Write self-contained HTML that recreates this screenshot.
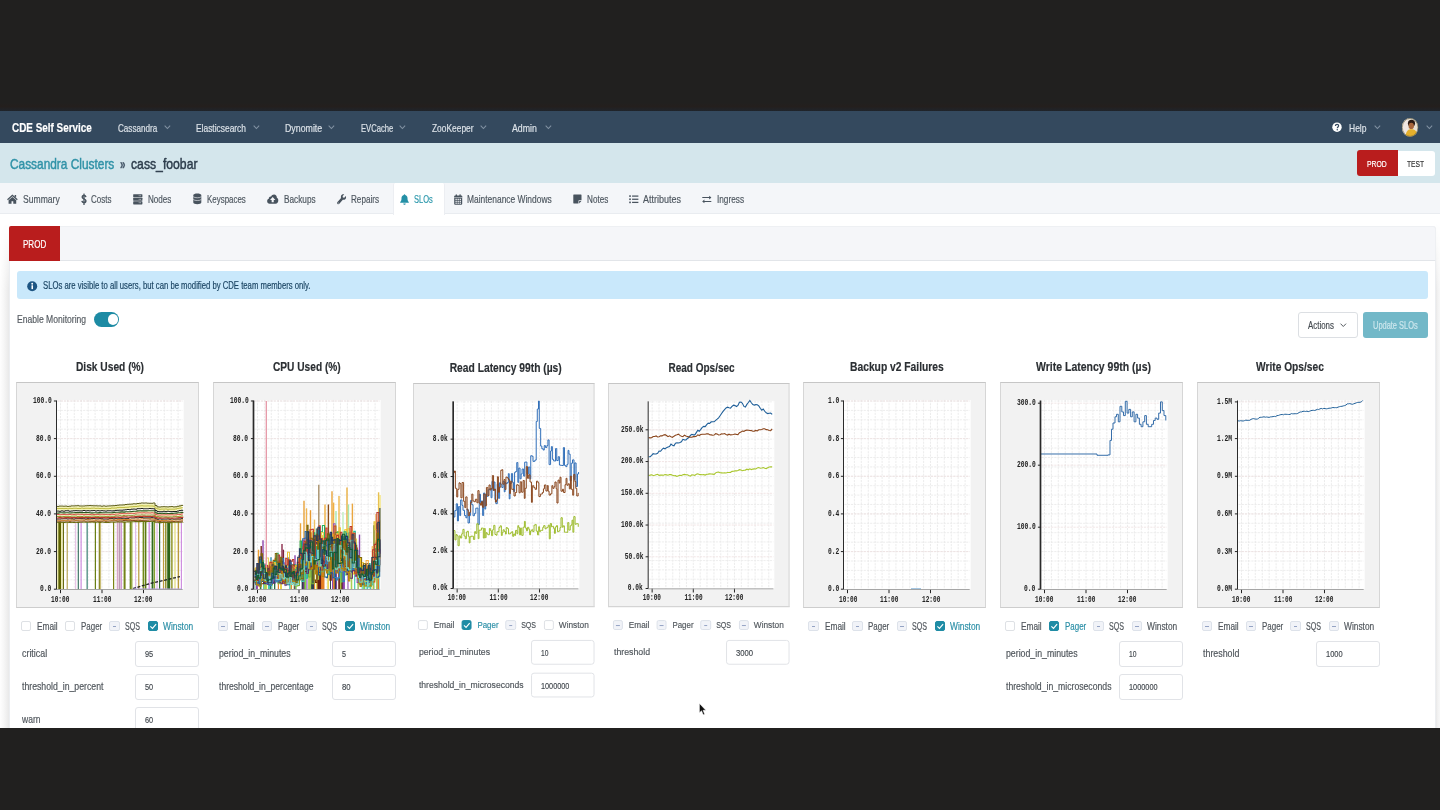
<!DOCTYPE html><html><head><meta charset="utf-8"><title>CDE Self Service</title><style>
*{box-sizing:border-box;margin:0;padding:0}
html,body{width:1440px;height:810px;overflow:hidden;background:#21201f}
body{position:relative;font-family:"Liberation Sans",sans-serif}
.a{position:absolute}
.t{position:absolute;white-space:pre;line-height:1;transform-origin:0 0;display:block;-webkit-text-stroke:.18px currentColor}
.s{font-family:"Liberation Sans",sans-serif}
.m{font-family:"Liberation Mono",monospace;-webkit-text-stroke:0}
#page{position:absolute;left:0;top:111px;width:1440px;height:617px;background:#fff;overflow:hidden}
#wrap{position:absolute;left:0;top:-111px;width:1440px;height:810px;will-change:transform}
.col{position:absolute;transform-origin:0 0;width:190px;height:360px}
.box{position:absolute;left:0;top:0;width:182.5px;height:225.7px;background:#f2f2f2;border:1px solid #d6d6d6;border-top-color:#c6c6c6;border-bottom-color:#cdcdcd}
.cb{position:absolute;top:238.8px;width:10.4px;height:10.4px;border-radius:2px}
.cb.u{background:#fff;border:1px solid #dee1e5}
.cb.i{background:#f1f3f8;border:1px solid #dde2ea}
.cb.c{background:#1f8ca5;border:1px solid #1f8ca5}
.inp{position:absolute;left:118.9px;width:63.8px;height:25.4px;background:#fff;border:1px solid #e1e3e7;border-radius:3px}
svg{position:absolute;overflow:visible}
</style></head><body>
<div class="a" style="left:0;top:103px;width:1440px;height:8px;background:linear-gradient(180deg,#21201f,#241f1d 45%,#1f242b 100%)"></div>
<div id="page"><div id="wrap">
<div class="a" style="left:0;top:111px;width:1440px;height:31.6px;background:#34495e"></div>
<div class="a" style="left:0;top:142.6px;width:1440px;height:40px;background:#d4e6ec"></div>
<div class="a" style="left:0;top:182.6px;width:1440px;height:31px;background:#f4f6f9;border-bottom:1px solid #e9ecf0"></div>
<div class="a" style="left:392.7px;top:183px;width:52.5px;height:32px;background:#fff;border-left:1px solid #eceef2;border-right:1px solid #eceef2;border-radius:2px 2px 0 0"></div>
<div class="a" style="left:0;top:222px;width:8.9px;height:520px;background:linear-gradient(90deg,#fefefe 0,#f8f8f8 35%,#efefef 75%,#e9e9e9 100%);-webkit-mask-image:linear-gradient(180deg,transparent 0,rgba(0,0,0,.25) 22px,#000 70px);mask-image:linear-gradient(180deg,transparent 0,rgba(0,0,0,.25) 22px,#000 70px)"></div>
<div class="a" style="left:1436px;top:222px;width:4px;height:520px;background:linear-gradient(90deg,#e8e8e8,#f2f2f2 45%,#f7f7f7);-webkit-mask-image:linear-gradient(180deg,transparent 0,rgba(0,0,0,.25) 22px,#000 70px);mask-image:linear-gradient(180deg,transparent 0,rgba(0,0,0,.25) 22px,#000 70px)"></div>
<div class="a" style="left:9.2px;top:225.7px;width:1426.8px;height:520px;background:#fff;border:1px solid #eceef1;border-radius:3px 3px 0 0"></div>
<div class="a" style="left:9.2px;top:225.7px;width:1426.8px;height:35.5px;background:#f5f6f9;border:1px solid #eef0f3;border-bottom:1px solid #e2e5e9;border-radius:3px 3px 0 0"></div>
<div class="a" style="left:9.2px;top:226.2px;width:51.2px;height:34.4px;background:#b91d1d;border-radius:2px 0 0 0"></div>
<div class="a" style="left:16.7px;top:271.3px;width:1411.3px;height:27.9px;background:#c9e8fb;border-radius:3px"></div>
<svg style="left:27.3px;top:280.6px" width="10.4" height="10.4" viewBox="0 0 20 20"><circle cx="10" cy="10" r="9.6" fill="#1d5583"/><rect x="8.6" y="8.2" width="3" height="7.4" fill="#fff"/><circle cx="10" cy="5.4" r="1.8" fill="#fff"/></svg>
<div class="a" style="left:93.7px;top:311.8px;width:25.8px;height:15.5px;border-radius:8px;background:#1d8ba4"></div>
<div class="a" style="left:107.6px;top:314.1px;width:10.9px;height:10.9px;border-radius:50%;background:#fff"></div>
<div class="a" style="left:1298.3px;top:312.2px;width:60px;height:26.2px;background:#fff;border:1px solid #dcdfe3;border-radius:3px"></div>
<svg style="left:1340.3px;top:323.3px" width="6.6" height="4.4" viewBox="0 0 12 8"><path d="M1 1.2 L6 6.4 L11 1.2" fill="none" stroke="#4a5056" stroke-width="1.7"/></svg>
<div class="a" style="left:1363.3px;top:312.2px;width:64.7px;height:26.2px;background:#72b8c8;border-radius:3px"></div>
<div class="a" style="left:1356.6px;top:150px;width:41.4px;height:26.2px;background:#b91d1d;border-radius:3px 0 0 3px"></div>
<div class="a" style="left:1398px;top:150.6px;width:37.2px;height:25.5px;background:#fff;border-radius:0 3px 3px 0"></div>
<svg style="left:163.8px;top:124.8px" width="6.8" height="4.4" viewBox="0 0 12 8"><path d="M1 1.2 L6 6.4 L11 1.2" fill="none" stroke="#8292a3" stroke-width="1.9"/></svg>
<svg style="left:252.5px;top:124.8px" width="6.8" height="4.4" viewBox="0 0 12 8"><path d="M1 1.2 L6 6.4 L11 1.2" fill="none" stroke="#8292a3" stroke-width="1.9"/></svg>
<svg style="left:327.8px;top:124.8px" width="6.8" height="4.4" viewBox="0 0 12 8"><path d="M1 1.2 L6 6.4 L11 1.2" fill="none" stroke="#8292a3" stroke-width="1.9"/></svg>
<svg style="left:399.4px;top:124.8px" width="6.8" height="4.4" viewBox="0 0 12 8"><path d="M1 1.2 L6 6.4 L11 1.2" fill="none" stroke="#8292a3" stroke-width="1.9"/></svg>
<svg style="left:479.8px;top:124.8px" width="6.8" height="4.4" viewBox="0 0 12 8"><path d="M1 1.2 L6 6.4 L11 1.2" fill="none" stroke="#8292a3" stroke-width="1.9"/></svg>
<svg style="left:544.8px;top:124.8px" width="6.8" height="4.4" viewBox="0 0 12 8"><path d="M1 1.2 L6 6.4 L11 1.2" fill="none" stroke="#8292a3" stroke-width="1.9"/></svg>
<svg style="left:1374.4px;top:124.8px" width="6.8" height="4.4" viewBox="0 0 12 8"><path d="M1 1.2 L6 6.4 L11 1.2" fill="none" stroke="#8292a3" stroke-width="1.9"/></svg>
<svg style="left:1425.6px;top:124.8px" width="6.8" height="4.4" viewBox="0 0 12 8"><path d="M1 1.2 L6 6.4 L11 1.2" fill="none" stroke="#8292a3" stroke-width="1.9"/></svg>
<svg style="left:1332.4px;top:122.3px" width="10" height="10.4" viewBox="0 0 20 20"><circle cx="10" cy="10" r="9.4" fill="#fff"/><path d="M6.9 7.6 C6.9 5.4 8.3 4.3 10.1 4.3 C12 4.3 13.3 5.4 13.3 7.1 C13.3 9.6 10.6 9.4 10.6 12" fill="none" stroke="#34495e" stroke-width="2.4"/><circle cx="10.5" cy="15.3" r="1.5" fill="#34495e"/></svg>
<svg style="left:1401.7px;top:118.3px" width="16.2" height="18.8" viewBox="0 0 16.4 18.8"><defs><clipPath id="av"><ellipse cx="8.2" cy="9.4" rx="8.2" ry="9.4"/></clipPath></defs><g clip-path="url(#av)"><rect width="16.4" height="18.8" fill="#e9e2d6"/><rect x="0" y="0" width="6" height="18.8" fill="#efe6e2"/><ellipse cx="9.6" cy="5.2" rx="3.6" ry="3.6" fill="#2a1a14"/><ellipse cx="9.4" cy="8" rx="2.7" ry="3.2" fill="#a8663c"/><path d="M3.5 18.8 C4 12.5 6.5 11.2 9.4 11.2 C12.6 11.2 15.5 12.5 16 18.8 Z" fill="#e5b02c"/></g><ellipse cx="8.2" cy="9.4" rx="7.9" ry="9.1" fill="none" stroke="#6c6440" stroke-width=".6"/></svg>
<svg style="left:7.4px;top:194.0px" width="10.8" height="10.4" viewBox="0 0 22 21"><path d="M11 1 L21.8 10.8 L20.2 12.6 L11 4.4 L1.8 12.6 L0.2 10.8 Z M15.6 2.2 h3 v5 l-3 -2.6 Z M11 6 L18.8 12.8 V20 H12.8 V14.6 H9.2 V20 H3.2 V12.8 Z" fill="#48535e"/></svg>
<svg style="left:81.0px;top:193.0px" width="6.0" height="12.6" viewBox="0 0 12 24"><path d="M9.8 7.6 C9.4 5.4 7.8 4.6 6 4.6 C4 4.6 2.4 5.8 2.4 7.6 C2.4 11.8 9.8 10.4 9.8 15 C9.8 17 8.2 18.6 6 18.6 C3.8 18.6 2.2 17.4 1.8 15.2" fill="none" stroke="#48535e" stroke-width="3"/><rect x="4.7" y="0.6" width="2.6" height="22.8" fill="#48535e"/></svg>
<svg style="left:132.8px;top:194.0px" width="9.6" height="10.6" viewBox="0 0 20 22"><rect x="0.4" y="0.4" width="19.2" height="6.4" rx="1.2" fill="#48535e"/><circle cx="16" cy="3.6" r="1" fill="#f4f6f9"/><circle cx="12.8" cy="3.6" r="1" fill="#f4f6f9"/><rect x="0.4" y="7.8" width="19.2" height="6.4" rx="1.2" fill="#48535e"/><circle cx="16" cy="11" r="1" fill="#f4f6f9"/><circle cx="12.8" cy="11" r="1" fill="#f4f6f9"/><rect x="0.4" y="15.2" width="19.2" height="6.4" rx="1.2" fill="#48535e"/><circle cx="16" cy="18.4" r="1" fill="#f4f6f9"/><circle cx="12.8" cy="18.4" r="1" fill="#f4f6f9"/></svg>
<svg style="left:192.7px;top:192.8px" width="8.6" height="11.6" viewBox="0 0 18 24"><path d="M0.6 4.2 C0.6 -0.4 17.4 -0.4 17.4 4.2 V19.8 C17.4 24.4 0.6 24.4 0.6 19.8 Z" fill="#48535e"/><path d="M0.6 7.6 C3 10.6 15 10.6 17.4 7.6 M0.6 13.4 C3 16.4 15 16.4 17.4 13.4" fill="none" stroke="#f4f6f9" stroke-width="1.3"/></svg>
<svg style="left:266.8px;top:193.8px" width="11.4" height="10.2" viewBox="0 0 24 21"><path d="M5.6 20.4 C2.4 20.4 0.3 18 0.3 15 C0.3 12.6 1.8 10.6 3.8 10 C3.6 6.8 6 4.6 8.4 5.4 C9.6 2.4 12 0.6 14.8 0.6 C18.4 0.6 21 3.6 20.8 7.6 C22.8 8.4 23.8 10.4 23.8 13 C23.8 17.2 21.4 20.4 18 20.4 Z" fill="#48535e"/><path d="M12 6 L17.6 12.4 H14.2 V17 H9.8 V12.4 H6.4 Z" fill="#f4f6f9"/></svg>
<svg style="left:336.7px;top:193.8px" width="9.4" height="10.6" viewBox="0 0 20 22"><path d="M18.8 4.2 L15.4 7.6 L12.6 7 L12 4.2 L15.4 0.8 C12.6 -0.2 9.2 1.2 8.4 4.4 C8 5.8 8.2 7 8.6 8 L1 16.8 C-0.2 18.2 0.2 20 1.2 20.8 C2.2 21.8 4 21.8 5 20.6 L12.4 11.8 C15 12.6 18 11.4 19 8.6 C19.6 7 19.4 5.4 18.8 4.2 Z" fill="#48535e"/><circle cx="3" cy="18.8" r="1" fill="#f4f6f9"/></svg>
<svg style="left:400.0px;top:193.8px" width="9.0" height="11.0" viewBox="0 0 18 22"><path d="M9 0.6 C9.9 0.6 10.5 1.3 10.4 2.2 C13.4 2.9 15 5.4 15 8.6 C15 13 16.2 14.6 17.6 16 V17.6 H0.4 V16 C1.8 14.6 3 13 3 8.6 C3 5.4 4.6 2.9 7.6 2.2 C7.5 1.3 8.1 0.6 9 0.6 Z M6.6 18.8 H11.4 C11.4 20.4 10.4 21.4 9 21.4 C7.6 21.4 6.6 20.4 6.6 18.8 Z" fill="#2490a6"/></svg>
<svg style="left:453.8px;top:193.6px" width="8.4" height="11.0" viewBox="0 0 17 22"><rect x="0.4" y="2.8" width="16.2" height="18.6" rx="1.8" fill="#48535e"/><rect x="3.4" y="0.4" width="2.6" height="4.8" rx="1" fill="#48535e"/><rect x="11" y="0.4" width="2.6" height="4.8" rx="1" fill="#48535e"/><rect x="3" y="9.4" width="2.6" height="2.6" fill="#f4f6f9"/><rect x="3" y="13.4" width="2.6" height="2.6" fill="#f4f6f9"/><rect x="3" y="17.2" width="2.6" height="2.6" fill="#f4f6f9"/><rect x="7.2" y="9.4" width="2.6" height="2.6" fill="#f4f6f9"/><rect x="7.2" y="13.4" width="2.6" height="2.6" fill="#f4f6f9"/><rect x="7.2" y="17.2" width="2.6" height="2.6" fill="#f4f6f9"/><rect x="11.4" y="9.4" width="2.6" height="2.6" fill="#f4f6f9"/><rect x="11.4" y="13.4" width="2.6" height="2.6" fill="#f4f6f9"/><rect x="11.4" y="17.2" width="2.6" height="2.6" fill="#f4f6f9"/><rect x="0.4" y="6.6" width="16.2" height="1" fill="#f4f6f9"/></svg>
<svg style="left:573.0px;top:194.4px" width="8.8" height="10.0" viewBox="0 0 18 20"><path d="M1.6 0.6 H16.4 C17 0.6 17.4 1 17.4 1.6 V12.6 H12.4 C11.6 12.6 11.2 13 11.2 13.8 V19.4 H1.6 C1 19.4 0.6 19 0.6 18.4 V1.6 C0.6 1 1 0.6 1.6 0.6 Z M12.6 14 H17.2 L12.6 19 Z" fill="#48535e"/></svg>
<svg style="left:628.8px;top:195.2px" width="9.6" height="8.6" viewBox="0 0 20 18"><rect x="0.4" y="0.6" width="3.4" height="3.4" fill="#48535e"/><rect x="6.4" y="1" width="13.2" height="2.6" fill="#48535e"/><rect x="0.4" y="7.2" width="3.4" height="3.4" fill="#48535e"/><rect x="6.4" y="7.6" width="13.2" height="2.6" fill="#48535e"/><rect x="0.4" y="13.8" width="3.4" height="3.4" fill="#48535e"/><rect x="6.4" y="14.2" width="13.2" height="2.6" fill="#48535e"/></svg>
<svg style="left:702.2px;top:195.0px" width="9.6" height="9.0" viewBox="0 0 20 18"><path d="M0.6 4 H15 V1 L19.6 5 L15 9 V6 H0.6 Z M19.4 12 H5 V9 L0.4 13 L5 17 V14 H19.4 Z" fill="#48535e"/></svg>
<span class="t s" style="left:12.20px;top:121.97px;font-size:12.3px;color:#ffffff;transform:scaleX(0.8052);font-weight:bold">CDE Self Service</span>
<span class="t s" style="left:118.30px;top:122.82px;font-size:10.6px;color:#dce2e8;transform:scaleX(0.7651)">Cassandra</span>
<span class="t s" style="left:196.20px;top:122.82px;font-size:10.6px;color:#dce2e8;transform:scaleX(0.7937)">Elasticsearch</span>
<span class="t s" style="left:284.50px;top:122.82px;font-size:10.6px;color:#dce2e8;transform:scaleX(0.8313)">Dynomite</span>
<span class="t s" style="left:360.80px;top:122.82px;font-size:10.6px;color:#dce2e8;transform:scaleX(0.7193)">EVCache</span>
<span class="t s" style="left:432.20px;top:122.82px;font-size:10.6px;color:#dce2e8;transform:scaleX(0.7917)">ZooKeeper</span>
<span class="t s" style="left:512.20px;top:122.82px;font-size:10.6px;color:#dce2e8;transform:scaleX(0.8258)">Admin</span>
<span class="t s" style="left:1348.80px;top:122.82px;font-size:10.6px;color:#dce2e8;transform:scaleX(0.8029)">Help</span>
<span class="t s" style="left:9.70px;top:157.02px;font-size:14.2px;color:#3092a7;transform:scaleX(0.8371);-webkit-text-stroke:0.45px currentColor">Cassandra Clusters</span>
<span class="t s" style="left:119.80px;top:157.12px;font-size:14px;color:#47586a;transform:scaleX(0.6926);font-weight:bold;-webkit-text-stroke:0.3px currentColor">»</span>
<span class="t s" style="left:131.00px;top:157.02px;font-size:14.2px;color:#2c3c4b;transform:scaleX(0.8603);-webkit-text-stroke:0.45px currentColor">cass_foobar</span>
<span class="t s" style="left:1367.30px;top:158.82px;font-size:9.6px;color:#ffffff;transform:scaleX(0.7143)">PROD</span>
<span class="t s" style="left:1407.30px;top:158.82px;font-size:9.6px;color:#333333;transform:scaleX(0.6971)">TEST</span>
<span class="t s" style="left:22.80px;top:193.87px;font-size:10.5px;color:#4d565f;transform:scaleX(0.8167)">Summary</span>
<span class="t s" style="left:91.30px;top:193.87px;font-size:10.5px;color:#4d565f;transform:scaleX(0.7600)">Costs</span>
<span class="t s" style="left:147.80px;top:193.87px;font-size:10.5px;color:#4d565f;transform:scaleX(0.7708)">Nodes</span>
<span class="t s" style="left:206.50px;top:193.87px;font-size:10.5px;color:#4d565f;transform:scaleX(0.7552)">Keyspaces</span>
<span class="t s" style="left:283.70px;top:193.87px;font-size:10.5px;color:#4d565f;transform:scaleX(0.7845)">Backups</span>
<span class="t s" style="left:351.20px;top:193.87px;font-size:10.5px;color:#4d565f;transform:scaleX(0.7737)">Repairs</span>
<span class="t s" style="left:413.80px;top:193.87px;font-size:10.5px;color:#2a97ab;transform:scaleX(0.7120)">SLOs</span>
<span class="t s" style="left:467.00px;top:193.87px;font-size:10.5px;color:#4d565f;transform:scaleX(0.8018)">Maintenance Windows</span>
<span class="t s" style="left:586.70px;top:193.87px;font-size:10.5px;color:#4d565f;transform:scaleX(0.7763)">Notes</span>
<span class="t s" style="left:643.30px;top:193.87px;font-size:10.5px;color:#4d565f;transform:scaleX(0.8544)">Attributes</span>
<span class="t s" style="left:716.70px;top:193.87px;font-size:10.5px;color:#4d565f;transform:scaleX(0.7840)">Ingress</span>
<span class="t s" style="left:23.00px;top:239.52px;font-size:10.2px;color:#ffffff;transform:scaleX(0.7881)">PROD</span>
<span class="t s" style="left:42.50px;top:280.62px;font-size:10px;color:#1a4463;transform:scaleX(0.7717)">SLOs are visible to all users, but can be modified by CDE team members only.</span>
<span class="t s" style="left:16.70px;top:313.87px;font-size:10.5px;color:#555b61;transform:scaleX(0.8164)">Enable Monitoring</span>
<span class="t s" style="left:1308.30px;top:319.87px;font-size:10.5px;color:#444a50;transform:scaleX(0.7521)">Actions</span>
<span class="t s" style="left:1373.30px;top:319.87px;font-size:10.5px;color:#cde7ed;transform:scaleX(0.7090)">Update SLOs</span>
<div class="col" style="left:16px;top:382.3px">
<div class="box"></div>
<svg style="left:0;top:0" width="182.5" height="225.7" viewBox="0 0 182.5 225.7"><rect x="41" y="18" width="126.7" height="189.2" fill="#fff"/><path d="M44.5 18V207.2M51.4 18V207.2M58.3 18V207.2M65.3 18V207.2M72.2 18V207.2M79.1 18V207.2M86 18V207.2M92.9 18V207.2M99.8 18V207.2M106.8 18V207.2M113.7 18V207.2M120.6 18V207.2M127.5 18V207.2M134.4 18V207.2M141.3 18V207.2M148.3 18V207.2M155.2 18V207.2M162.1 18V207.2" stroke="#e7e7e7" stroke-width=".8" stroke-dasharray="2.2 1" fill="none"/><path d="M41.5 19H166.7M41.5 28.4H166.7M41.5 37.8H166.7M41.5 47.2H166.7M41.5 56.6H166.7M41.5 66H166.7M41.5 75.5H166.7M41.5 84.9H166.7M41.5 94.3H166.7M41.5 103.7H166.7M41.5 113.1H166.7M41.5 122.5H166.7M41.5 131.9H166.7M41.5 141.3H166.7M41.5 150.7H166.7M41.5 160.2H166.7M41.5 169.6H166.7M41.5 179H166.7M41.5 188.4H166.7M41.5 197.8H166.7" stroke="#e9e9e9" stroke-width=".8" stroke-dasharray="2.2 1" fill="none"/><path d="M41.5 19H166.7M41.5 56.6H166.7M41.5 94.3H166.7M41.5 131.9H166.7M41.5 169.6H166.7" stroke="#eedfdf" stroke-width=".8" stroke-dasharray="2.2 1" fill="none"/><g fill="none"><path d="M0 0V67.4" transform="translate(41.8 139.8)" stroke="#e9e79a" stroke-width="1.2"/><path d="M0 0V67.4" transform="translate(43.7 139.8)" stroke="#5f6400" stroke-width="2.8"/><path d="M0 0V67.4" transform="translate(45.8 139.8)" stroke="#eeeaa0" stroke-width="1.2"/><path d="M0 0V67.4" transform="translate(47.4 139.8)" stroke="#6b6b10" stroke-width="1.2"/><path d="M0 0V67.4" transform="translate(51.2 139.8)" stroke="#b09a3a" stroke-width="1"/><path d="M0 0V67.4" transform="translate(59.7 139.8)" stroke="#e3b7e0" stroke-width="1"/><path d="M0 0V67.4" transform="translate(62.3 139.8)" stroke="#2f6b5a" stroke-width="1.1"/><path d="M0 0V67.4" transform="translate(65.1 139.8)" stroke="#cf8fe0" stroke-width="1.2"/><path d="M0 0V67.4" transform="translate(71.2 139.8)" stroke="#6a9f95" stroke-width="1.6"/><path d="M0 0V67.4" transform="translate(79.4 139.8)" stroke="#6a7f14" stroke-width="1.2"/><path d="M0 0V67.4" transform="translate(83.4 139.8)" stroke="#8b8a2a" stroke-width="1.4"/><path d="M0 0V67.4" transform="translate(84.6 139.8)" stroke="#c6b96a" stroke-width="1"/><path d="M0 0V67.4" transform="translate(97.6 139.8)" stroke="#7b8414" stroke-width="1.2"/><path d="M0 0V67.4" transform="translate(101.6 139.8)" stroke="#d9a7c7" stroke-width="1.6"/><path d="M0 0V67.4" transform="translate(103.6 139.8)" stroke="#b99ab0" stroke-width="1.6"/><path d="M0 0V67.4" transform="translate(105.3 139.8)" stroke="#cf8fd0" stroke-width="1.2"/><path d="M0 0V67.4" transform="translate(108.6 139.8)" stroke="#74831a" stroke-width="2"/><path d="M0 0V67.4" transform="translate(114.4 139.8)" stroke="#6c8a1e" stroke-width="1.4"/><path d="M0 0V67.4" transform="translate(115.8 139.8)" stroke="#86961f" stroke-width="1.2"/><path d="M0 0V67.4" transform="translate(119.6 139.8)" stroke="#e0b7ea" stroke-width="1"/><path d="M0 0V67.4" transform="translate(122.8 139.8)" stroke="#b99a3a" stroke-width="1.2"/><path d="M0 0V67.4" transform="translate(127.4 139.8)" stroke="#708a1a" stroke-width="1.6"/><path d="M0 0V67.4" transform="translate(129.6 139.8)" stroke="#5d7a10" stroke-width="1.6"/><path d="M0 0V67.4" transform="translate(133.2 139.8)" stroke="#cf8fe0" stroke-width="1.4"/><path d="M0 0V67.4" transform="translate(136.5 139.8)" stroke="#2f6a1f" stroke-width="1.8"/><path d="M0 0V67.4" transform="translate(138.4 139.8)" stroke="#86a030" stroke-width="1.4"/><path d="M0 0V67.4" transform="translate(141 139.8)" stroke="#e0b7ea" stroke-width="1.2"/><path d="M0 0V67.4" transform="translate(143.6 139.8)" stroke="#2f6a2a" stroke-width="1.2"/><path d="M0 0V67.4" transform="translate(147.5 139.8)" stroke="#b99a3a" stroke-width="1.2"/><path d="M0 0V67.4" transform="translate(149.8 139.8)" stroke="#8a8a20" stroke-width="1.4"/><path d="M0 0V67.4" transform="translate(152.7 139.8)" stroke="#2e6418" stroke-width="3"/><path d="M0 0V67.4" transform="translate(155.9 139.8)" stroke="#8a8f1c" stroke-width="1.4"/><path d="M0 0V67.4" transform="translate(159 139.8)" stroke="#e6e08a" stroke-width="1.4"/><path d="M0 0V67.4" transform="translate(162.4 139.8)" stroke="#b99a3a" stroke-width="1.4"/><path d="M0 0V67.4" transform="translate(165.4 139.8)" stroke="#cf8fe0" stroke-width="1.2"/><path d="M41 124.6L42 124.6L43 124.6L44 124.6L45 124.6L46 124.6L47 124.6L48 124.6L49 124.5L50 124.5L51 124.5L52 124.5L53 124.5L54 124.4L55 124.4L56 124.4L57 124.4L58 124.4L59 124.3L60 124.3L61 124.3L62 124.3L63 124.3L64 124.2L65 124.2L66 124.2L67 124.2L68 124.2L69 124.2L70 124.2L71 124.2L72 124.2L73 124.2L74 124.2L75 124.2L76 124.2L77 124.2L78 124.3L79 124.3L80 124.3L81 124.3L82 124.3L83 124.4L84 124.4L85 124.4L86 124.4L87 124.4L88 124.5L89 124.5L90 124.5L91 124.5L92 124.4L93 124.3L94 124.2L95 124.2L96 124.1L97 124L98 123.9L99 123.8L100 123.8L101 123.7L102 123.6L103 123.5L104 123.4L105 123.4L106 123.3L107 123.2L108 123.1L109 123L110 123L111 122.9L112 122.8L113 122.7L114 122.6L115 122.6L116 122.5L117 122.4L118 122.3L119 122.2L120 122.2L121 122.1L122 122L123 121.9L124 121.9L125 121.9L126 121.9L127 121.9L128 121.9L129 121.9L130 121.9L131 121.9L132 121.9L133 121.9L134 121.9L135 121.9L136 121.9L137 121.9L138 121.9L139 124L140 125.1L141 125.1L142 125.1L143 125.1L144 125.1L145 125.1L146 125.1L147 125.1L148 125.1L149 125.1L150 125.1L151 125.1L152 125.1L153 125.1L154 125.1L155 125.1L156 125.1L157 125.1L158 125.1L159 124.9L160 124.7L161 124.6L162 124.4L163 124.2L164 124.1L165 123.9L166 123.7L166 127.9L165 128.1L164 128.2L163 128.4L162 128.5L161 128.7L160 128.8L159 129L158 129.1L157 129.1L156 129.1L155 129.1L154 129.1L153 129.1L152 129.1L151 129.1L150 129.1L149 129.1L148 129.1L147 129.1L146 129.1L145 129.1L144 129.1L143 129.1L142 129.1L141 129.1L140 129.1L139 128.2L138 126.3L137 126.3L136 126.3L135 126.3L134 126.3L133 126.3L132 126.3L131 126.3L130 126.3L129 126.3L128 126.3L127 126.3L126 126.3L125 126.3L124 126.3L123 126.3L122 126.4L121 126.5L120 126.6L119 126.6L118 126.7L117 126.8L116 126.8L115 126.9L114 127L113 127.1L112 127.1L111 127.2L110 127.3L109 127.3L108 127.4L107 127.5L106 127.5L105 127.6L104 127.7L103 127.8L102 127.8L101 127.9L100 128L99 128L98 128.1L97 128.2L96 128.3L95 128.3L94 128.4L93 128.5L92 128.5L91 128.6L90 128.6L89 128.6L88 128.6L87 128.6L86 128.6L85 128.5L84 128.5L83 128.5L82 128.5L81 128.5L80 128.4L79 128.4L78 128.4L77 128.4L76 128.4L75 128.4L74 128.4L73 128.4L72 128.4L71 128.4L70 128.4L69 128.4L68 128.4L67 128.4L66 128.4L65 128.4L64 128.4L63 128.4L62 128.4L61 128.4L60 128.5L59 128.5L58 128.5L57 128.5L56 128.5L55 128.6L54 128.6L53 128.6L52 128.6L51 128.6L50 128.7L49 128.7L48 128.7L47 128.7L46 128.7L45 128.7L44 128.7L43 128.7L42 128.7L41 128.7Z" fill="#f3f2b4" stroke="none"/><path d="M41 131.4L42 131.4L43 131.4L44 131.4L45 131.4L46 131.4L47 131.3L48 131.3L49 131.3L50 131.3L51 131.3L52 131.3L53 131.2L54 131.2L55 131.2L56 131.2L57 131.2L58 131.1L59 131.1L60 131.1L61 131.1L62 131.1L63 131L64 131L65 131L66 131L67 131L68 131L69 131L70 131L71 131L72 131L73 131L74 131L75 131L76 131L77 131L78 131L79 131L80 131.1L81 131.1L82 131.1L83 131.1L84 131.1L85 131.2L86 131.2L87 131.2L88 131.2L89 131.3L90 131.3L91 131.3L92 131.2L93 131.1L94 131L95 130.9L96 130.8L97 130.8L98 130.7L99 130.6L100 130.5L101 130.5L102 130.4L103 130.3L104 130.2L105 130.1L106 130.1L107 130L108 129.9L109 129.8L110 129.7L111 129.7L112 129.6L113 129.5L114 129.4L115 129.3L116 129.3L117 129.2L118 129.1L119 129L120 128.9L121 128.9L122 128.8L123 128.7L124 128.6L125 128.6L126 128.6L127 128.6L128 128.6L129 128.6L130 128.6L131 128.6L132 128.6L133 128.6L134 128.6L135 128.6L136 128.6L137 128.6L138 128.6L139 130.8L140 131.8L141 131.8L142 131.8L143 131.8L144 131.8L145 131.8L146 131.8L147 131.8L148 131.8L149 131.8L150 131.8L151 131.8L152 131.8L153 131.8L154 131.8L155 131.8L156 131.8L157 131.8L158 131.8L159 131.7L160 131.5L161 131.3L162 131.2L163 131L164 130.8L165 130.7L166 130.5L166 133.4L165 133.5L164 133.7L163 133.8L162 134L161 134.1L160 134.3L159 134.4L158 134.6L157 134.6L156 134.6L155 134.6L154 134.6L153 134.6L152 134.6L151 134.6L150 134.6L149 134.6L148 134.6L147 134.6L146 134.6L145 134.6L144 134.6L143 134.6L142 134.6L141 134.6L140 134.6L139 133.6L138 131.7L137 131.7L136 131.7L135 131.7L134 131.7L133 131.7L132 131.7L131 131.7L130 131.7L129 131.7L128 131.7L127 131.7L126 131.7L125 131.7L124 131.7L123 131.8L122 131.9L121 131.9L120 132L119 132.1L118 132.2L117 132.2L116 132.3L115 132.4L114 132.4L113 132.5L112 132.6L111 132.6L110 132.7L109 132.8L108 132.9L107 132.9L106 133L105 133.1L104 133.1L103 133.2L102 133.3L101 133.4L100 133.4L99 133.5L98 133.6L97 133.6L96 133.7L95 133.8L94 133.8L93 133.9L92 134L91 134.1L90 134.1L89 134.1L88 134.1L87 134L86 134L85 134L84 134L83 134L82 133.9L81 133.9L80 133.9L79 133.9L78 133.9L77 133.9L76 133.8L75 133.8L74 133.8L73 133.8L72 133.8L71 133.8L70 133.8L69 133.8L68 133.8L67 133.8L66 133.8L65 133.8L64 133.9L63 133.9L62 133.9L61 133.9L60 133.9L59 133.9L58 134L57 134L56 134L55 134L54 134L53 134.1L52 134.1L51 134.1L50 134.1L49 134.1L48 134.1L47 134.1L46 134.2L45 134.2L44 134.2L43 134.2L42 134.2L41 134.2Z" fill="#f6f4c8" stroke="none"/><path d="M41 140.3H43V140.4H45V140.2H47V140.4H49V140.2H51V140.3H53V140.4H55V140.2H57V140.4H59V140.2H61V140.4H63V140.3H65V140.2H67V140H69V140.3H71V140.3H73V140.1H75V139.9H77V140.1H79V140.2H81V140H83V140.4H85V140H87V140.3H89V140.4H91V140.4H93V140.3H95V140H97V140.2H99V140H101V139.9H103V140H105V139.9H107V140.1H109V140H111V139.9H113V139.7H115V139.7H117V139.7H119V139.6H121V139.6H123V139.6H125V139.4H127V139.4H129V139.6H131V139.5H133V139.5H135V139.3H137V139.4H139V140.2H141V140.2H143V140.6H145V140.4H147V140.3H149V140.5H151V140.4H153V140.6H155V140.3H157V140.3H159V140.3H161V140.1H163V140.2H165V140H167V139.9" fill="none" stroke="#6b6b10" stroke-width="1.1"/><path d="M41 139.1H43V139.2H45V139H47V138.9H49V139.1H51V139H53V139.3H55V139H57V139H59V138.8H61V138.9H63V139.1H65V139.1H67V138.9H69V139.2H71V139H73V139.2H75V139.2H77V139.2H79V138.9H81V139.2H83V139.2H85V139.1H87V138.9H89V139.3H91V139.1H93V139H95V138.8H97V138.8H99V138.7H101V138.9H103V138.8H105V138.8H107V138.5H109V138.4H111V138.7H113V138.7H115V138.6H117V138.5H119V138.4H121V138.3H123V138.4H125V138.4H127V138.3H129V138.3H131V138.2H133V138H135V138.1H137V138.2H139V138.9H141V139.2H143V139.5H145V139.1H147V139.2H149V139.1H151V139.2H153V139.3H155V139.3H157V139.5H159V139.2H161V139.3H163V139.2H165V139H167V138.9" fill="none" stroke="#8a4a16" stroke-width="1"/><path d="M41 138.1H43V138.2H45V138.2H47V138.2H49V138.2H51V138.1H53V138.2H55V137.8H57V137.9H59V138.1H61V138H63V138H65V137.9H67V138H69V137.7H71V137.6H73V137.9H75V137.9H77V138.1H79V138.1H81V138H83V138H85V137.8H87V138.1H89V138.2H91V137.8H93V137.9H95V138H97V137.8H99V137.9H101V137.6H103V137.4H105V137.4H107V137.4H109V137.5H111V137.4H113V137.4H115V137.1H117V137.1H119V137H121V137.1H123V137.1H125V136.8H127V136.7H129V136.8H131V136.8H133V136.8H135V136.8H137V137.1H139V137.8H141V138.3H143V138.4H145V138.4H147V138.3H149V138.3H151V138.1H153V138H155V138.2H157V138H159V137.9H161V137.8H163V137.9H165V137.9H167V137.7" fill="none" stroke="#d07a1e" stroke-width="1"/><path d="M41 137H43V137H45V136.8H47V136.7H49V136.7H51V136.9H53V136.8H55V136.7H57V137H59V136.7H61V136.6H63V136.6H65V136.6H67V136.7H69V136.9H71V136.6H73V136.8H75V136.6H77V136.5H79V136.8H81V136.8H83V136.6H85V136.7H87V137H89V137H91V137H93V136.6H95V136.6H97V136.8H99V136.4H101V136.3H103V136.3H105V136.4H107V136.3H109V136.4H111V136.4H113V135.8H115V135.9H117V135.9H119V135.6H121V135.8H123V135.5H125V135.5H127V135.8H129V135.8H131V135.8H133V135.8H135V135.6H137V135.8H139V136.7H141V137.3H143V136.9H145V137.2H147V137.1H149V137.1H151V136.9H153V137.2H155V136.9H157V137.1H159V137H161V136.9H163V137H165V136.6H167V136.6" fill="none" stroke="#2e2e2e" stroke-width="1"/><path d="M41 136H43V135.7H45V135.9H47V135.8H49V135.7H51V135.7H53V135.8H55V135.7H57V135.7H59V135.5H61V135.8H63V135.6H65V135.7H67V135.7H69V135.5H71V135.6H73V135.6H75V135.5H77V135.4H79V135.6H81V135.6H83V135.7H85V135.7H87V135.6H89V135.8H91V135.7H93V135.7H95V135.4H97V135.4H99V135.2H101V135.1H103V135.3H105V135.1H107V134.9H109V134.8H111V135.1H113V135H115V134.8H117V134.9H119V134.7H121V134.7H123V134.4H125V134.3H127V134.2H129V134.5H131V134.3H133V134.3H135V134.5H137V134.2H139V135.3H141V136.2H143V135.8H145V136.1H147V136H149V135.8H151V135.9H153V136.2H155V136.1H157V136H159V136H161V135.9H163V135.7H165V135.3H167V135.5" fill="none" stroke="#c0392b" stroke-width="1.2"/><path d="M41 134.5H43V134.5H45V134.7H47V134.5H49V134.4H51V134.4H53V134.6H55V134.2H57V134.2H59V134.1H61V134.5H63V134.4H65V134.5H67V134.1H69V134.4H71V134.4H73V134.3H75V134.1H77V134.1H79V134.4H81V134.5H83V134.2H85V134.3H87V134.3H89V134.6H91V134.6H93V134.2H95V134.3H97V134.3H99V133.8H101V133.9H103V133.7H105V134H107V133.5H109V133.8H111V133.3H113V133.4H115V133.4H117V133.2H119V132.9H121V133.1H123V133.1H125V132.9H127V133H129V133.1H131V133.1H133V133.1H135V133H137V133H139V134.2H141V134.6H143V134.9H145V134.8H147V134.9H149V134.8H151V135H153V134.9H155V135H157V134.7H159V134.6H161V134.6H163V134.3H165V133.9H167V134.1" fill="none" stroke="#8a8f1c" stroke-width="0.9"/><path d="M41 132.5H43V132.7H45V132.6H47V132.5H49V132.6H51V132.6H53V132.5H55V132.3H57V132.5H59V132.3H61V132.3H63V132.3H65V132.4H67V132.4H69V132.6H71V132.5H73V132.5H75V132.3H77V132.5H79V132.6H81V132.6H83V132.3H85V132.3H87V132.4H89V132.6H91V132.7H93V132.5H95V132.3H97V132.4H99V132.1H101V132.1H103V131.7H105V131.6H107V131.7H109V131.7H111V131.3H113V131.4H115V131.3H117V131.4H119V131.1H121V130.9H123V130.8H125V130.9H127V130.8H129V131H131V130.9H133V131H135V130.8H137V131H139V132.4H141V133H143V133.1H145V132.9H147V132.9H149V132.8H151V132.9H153V132.8H155V132.8H157V133H159V132.9H161V132.4H163V132.5H165V132H167V131.8" fill="none" stroke="#d64541" stroke-width="0.9"/><path d="M41 131.1H43V130.8H45V130.8H47V130.9H49V130.8H51V130.7H53V131H55V130.8H57V130.8H59V130.6H61V130.6H63V130.5H65V130.6H67V130.5H69V130.6H71V130.5H73V130.8H75V130.9H77V130.8H79V130.8H81V130.9H83V130.6H85V130.8H87V130.8H89V130.8H91V130.8H93V130.7H95V130.8H97V130.4H99V130.3H101V130.2H103V130.1H105V129.9H107V130.1H109V129.7H111V129.8H113V129.7H115V129.5H117V129.2H119V129.3H121V128.9H123V128.7H125V128.9H127V128.9H129V128.9H131V128.8H133V128.7H135V128.8H137V128.8H139V130.7H141V131.5H143V131.4H145V131.2H147V131.4H149V131.3H151V131.5H153V131.5H155V131.4H157V131.2H159V131.1H161V130.8H163V130.8H165V130.4H167V130.2" fill="none" stroke="#2f5a1f" stroke-width="1.1"/><path d="M41 129.1H43V129.3H45V128.9H47V129.2H49V128.8H51V128.8H53V129.2H55V129H57V128.8H59V128.7H61V128.8H63V128.9H65V128.9H67V128.5H69V128.9H71V128.7H73V128.9H75V128.7H77V128.6H79V129H81V128.7H83V128.9H85V128.7H87V128.9H89V129.1H91V128.8H93V128.8H95V128.9H97V128.8H99V128.4H101V128.3H103V128.2H105V128.2H107V128H109V127.8H111V127.5H113V127.7H115V127.2H117V127.1H119V127.2H121V126.7H123V126.7H125V126.5H127V126.8H129V126.8H131V126.8H133V126.5H135V126.7H137V126.8H139V128.6H141V129.6H143V129.7H145V129.7H147V129.3H149V129.6H151V129.3H153V129.6H155V129.6H157V129.5H159V129.5H161V129.1H163V128.6H165V128.3H167V128" fill="none" stroke="#1e1e1e" stroke-width="1"/><path d="M41 126.6H43V126.5H45V126.5H47V126.6H49V126.5H51V126.8H53V126.4H55V126.5H57V126.3H59V126.3H61V126.5H63V126.5H65V126.1H67V126.4H69V126.3H71V126.3H73V126.4H75V126.2H77V126.1H79V126.4H81V126.3H83V126.5H85V126.4H87V126.6H89V126.7H91V126.7H93V126.5H95V126H97V126.1H99V126H101V125.6H103V125.4H105V125.5H107V125.5H109V125.3H111V125.2H113V124.9H115V124.8H117V124.6H119V124.5H121V124.2H123V123.9H125V123.8H127V124H129V124H131V123.9H133V124H135V124H137V124.2H139V126.2H141V126.9H143V127.3H145V127.1H147V127.1H149V127H151V127.3H153V127.2H155V127.2H157V127.2H159V127H161V126.4H163V126.1H165V125.8H167V125.8" fill="none" stroke="#b9b53a" stroke-width="0.9"/><path d="M41 124.4H43V124.1H45V124.1H47V124.2H49V124.1H51V124.4H53V124.2H55V123.9H57V123.9H59V123.8H61V123.7H63V124H65V124H67V124H69V123.8H71V123.7H73V123.6H75V123.7H77V123.8H79V123.8H81V123.9H83V123.9H85V124.2H87V123.9H89V124.2H91V124H93V123.9H95V123.8H97V123.7H99V123.5H101V123.2H103V123H105V123H107V122.9H109V122.5H111V122.3H113V122.2H115V122.1H117V121.8H119V121.9H121V121.5H123V121.3H125V121H127V121.1H129V121H131V121.2H133V121.3H135V121.3H137V121H139V123.5H141V124.9H143V125H145V124.8H147V124.7H149V124.8H151V124.9H153V124.7H155V124.6H157V124.9H159V124.8H161V124.3H163V123.9H165V123.4H167V123.2" fill="none" stroke="#5c5c14" stroke-width="1"/><path d="M117 206.6 L133.5 201.7 L164 194.6" fill="none" stroke="#222" stroke-width="1.3" stroke-dasharray="3 1.6"/><path d="M117 207H166" stroke="#b9a3e6" stroke-width="1" fill="none"/></g><path d="M40.5 18.5V207.6" stroke="#2a2a2a" stroke-width="1" fill="none"/><path d="M37.9 19H40.5M37.9 56.6H40.5M37.9 94.3H40.5M37.9 131.9H40.5M37.9 169.6H40.5M37.9 207.2H40.5M44.5 207.2V211.2M86 207.2V211.2M127.5 207.2V211.2" stroke="#222" stroke-width="1" fill="none"/><path d="M40.5 207.5H166.7" stroke="#9c9c9c" stroke-width=".9" fill="none"/></svg>
<div class="cb u" style="left:5px"></div>
<div class="cb u" style="left:49px"></div>
<div class="cb i" style="left:93.2px"></div>
<div class="a" style="left:96.5px;top:243.6px;width:3.8px;height:1px;background:#94a3c4"></div>
<div class="cb c" style="left:131.5px"></div>
<svg style="left:131.5px;top:238.8px" width="10.4" height="10.4" viewBox="0 0 20 20"><path d="M4.6 10.4 L8.6 14.2 L15.6 5.8" fill="none" stroke="#fff" stroke-width="2.2"/></svg>
<div class="inp" style="top:259px"></div>
<div class="inp" style="top:291.9px"></div>
<div class="inp" style="top:324.8px"></div>
<span class="t s" style="left:60.00px;top:-22.48px;font-size:13.6px;color:#2b2f33;transform:scaleX(0.7501);font-weight:bold">Disk Used (%)</span>
<span class="t m" style="left:16.70px;top:14.42px;font-size:8.8px;color:#222222;transform:scaleX(0.7157);font-weight:bold">100.0</span>
<span class="t m" style="left:20.48px;top:52.42px;font-size:8.8px;color:#222222;transform:scaleX(0.7157);font-weight:bold">80.0</span>
<span class="t m" style="left:20.48px;top:89.42px;font-size:8.8px;color:#222222;transform:scaleX(0.7157);font-weight:bold">60.0</span>
<span class="t m" style="left:20.48px;top:127.42px;font-size:8.8px;color:#222222;transform:scaleX(0.7157);font-weight:bold">40.0</span>
<span class="t m" style="left:20.48px;top:165.42px;font-size:8.8px;color:#222222;transform:scaleX(0.7157);font-weight:bold">20.0</span>
<span class="t m" style="left:24.26px;top:202.42px;font-size:8.8px;color:#222222;transform:scaleX(0.7157);font-weight:bold">0.0</span>
<span class="t m" style="left:35.30px;top:213.42px;font-size:8.8px;color:#222222;transform:scaleX(0.6968);font-weight:bold">10:00</span>
<span class="t m" style="left:76.80px;top:213.42px;font-size:8.8px;color:#222222;transform:scaleX(0.6968);font-weight:bold">11:00</span>
<span class="t m" style="left:118.30px;top:213.42px;font-size:8.8px;color:#222222;transform:scaleX(0.6968);font-weight:bold">12:00</span>
<span class="t s" style="left:21.30px;top:239.32px;font-size:10px;color:#50565c;transform:scaleX(0.8275)">Email</span>
<span class="t s" style="left:65.00px;top:239.32px;font-size:10px;color:#50565c;transform:scaleX(0.7944)">Pager</span>
<span class="t s" style="left:109.00px;top:239.32px;font-size:10px;color:#50565c;transform:scaleX(0.7101)">SQS</span>
<span class="t s" style="left:147.00px;top:239.32px;font-size:10px;color:#2a8ea6;transform:scaleX(0.8360)">Winston</span>
<span class="t s" style="left:5.80px;top:266.32px;font-size:10px;color:#50565c;transform:scaleX(0.8856)">critical</span>
<span class="t s" style="left:128.80px;top:266.62px;font-size:9.4px;color:#444a50;transform:scaleX(0.7856)">95</span>
<span class="t s" style="left:5.80px;top:299.32px;font-size:10px;color:#50565c;transform:scaleX(0.8715)">threshold_in_percent</span>
<span class="t s" style="left:128.80px;top:299.62px;font-size:9.4px;color:#444a50;transform:scaleX(0.7856)">50</span>
<span class="t s" style="left:5.80px;top:332.32px;font-size:10px;color:#50565c;transform:scaleX(0.8530)">warn</span>
<span class="t s" style="left:128.80px;top:332.62px;font-size:9.4px;color:#444a50;transform:scaleX(0.7856)">60</span>
</div>
<div class="col" style="left:213px;top:382.3px">
<div class="box"></div>
<svg style="left:0;top:0" width="182.5" height="225.7" viewBox="0 0 182.5 225.7"><rect x="41" y="18" width="126.7" height="189.2" fill="#fff"/><path d="M44.5 18V207.2M51.4 18V207.2M58.3 18V207.2M65.3 18V207.2M72.2 18V207.2M79.1 18V207.2M86 18V207.2M92.9 18V207.2M99.8 18V207.2M106.8 18V207.2M113.7 18V207.2M120.6 18V207.2M127.5 18V207.2M134.4 18V207.2M141.3 18V207.2M148.3 18V207.2M155.2 18V207.2M162.1 18V207.2" stroke="#e7e7e7" stroke-width=".8" stroke-dasharray="2.2 1" fill="none"/><path d="M41.5 19H166.7M41.5 28.4H166.7M41.5 37.8H166.7M41.5 47.2H166.7M41.5 56.6H166.7M41.5 66H166.7M41.5 75.5H166.7M41.5 84.9H166.7M41.5 94.3H166.7M41.5 103.7H166.7M41.5 113.1H166.7M41.5 122.5H166.7M41.5 131.9H166.7M41.5 141.3H166.7M41.5 150.7H166.7M41.5 160.2H166.7M41.5 169.6H166.7M41.5 179H166.7M41.5 188.4H166.7M41.5 197.8H166.7" stroke="#e9e9e9" stroke-width=".8" stroke-dasharray="2.2 1" fill="none"/><path d="M41.5 19H166.7M41.5 56.6H166.7M41.5 94.3H166.7M41.5 131.9H166.7M41.5 169.6H166.7" stroke="#eedfdf" stroke-width=".8" stroke-dasharray="2.2 1" fill="none"/><g fill="none"><path d="M145.1 196.4V207.2" stroke="#7fb239" stroke-width="1.2"/><path d="M151.1 194.3V207.2" stroke="#8ad04a" stroke-width="2"/><path d="M82.5 195V207.2" stroke="#48c9b0" stroke-width="1.2"/><path d="M121.4 171.1V207.2" stroke="#2c3e50" stroke-width="1"/><path d="M98.7 177.1V207.2" stroke="#145a32" stroke-width="1"/><path d="M129.8 176.1V207.2" stroke="#48c9b0" stroke-width="3"/><path d="M77.8 197.5V207.2" stroke="#8ad04a" stroke-width="1"/><path d="M91.6 161.7V207.2" stroke="#c9a0e8" stroke-width="1"/><path d="M160.8 178.3V207.2" stroke="#7fb239" stroke-width="1.2"/><path d="M68 188.4V207.2" stroke="#e8d44d" stroke-width="2"/><path d="M163.6 178.7V207.2" stroke="#a9cf54" stroke-width="1.2"/><path d="M138.5 177.3V207.2" stroke="#a9cf54" stroke-width="1.6"/><path d="M83.2 191.9V207.2" stroke="#8ad04a" stroke-width="1"/><path d="M58.7 190.4V207.2" stroke="#7fb239" stroke-width="1"/><path d="M99.7 171.4V207.2" stroke="#2c3e50" stroke-width="3"/><path d="M65.4 190.9V207.2" stroke="#e67e22" stroke-width="1.2"/><path d="M94 174.2V207.2" stroke="#c9a0e8" stroke-width="2"/><path d="M164.8 185.8V207.2" stroke="#6fe0c0" stroke-width="1.6"/><path d="M165.7 183.5V207.2" stroke="#76d7c4" stroke-width="2"/><path d="M165.5 168.1V207.2" stroke="#8e44ad" stroke-width="1"/><path d="M47.2 196.8V207.2" stroke="#e8d44d" stroke-width="1.6"/><path d="M43.2 193.7V207.2" stroke="#6fe0c0" stroke-width="1.6"/><path d="M89.9 185.2V207.2" stroke="#48c9b0" stroke-width="1.2"/><path d="M43.9 195.8V207.2" stroke="#8e44ad" stroke-width="2"/><path d="M57.8 192.6V207.2" stroke="#6fe0c0" stroke-width="1.2"/><path d="M149.4 198V207.2" stroke="#76d7c4" stroke-width="1.6"/><path d="M154.6 192.3V207.2" stroke="#48c9b0" stroke-width="1.2"/><path d="M61.7 188.7V207.2" stroke="#145a32" stroke-width="1.2"/><path d="M127.2 174.1V207.2" stroke="#e8d44d" stroke-width="3"/><path d="M51.7 198.4V207.2" stroke="#a9cf54" stroke-width="1"/><path d="M105.5 177.7V207.2" stroke="#e67e22" stroke-width="3.6"/><path d="M90.6 174.7V207.2" stroke="#8e44ad" stroke-width="2"/><path d="M78.4 196.6V207.2" stroke="#e67e22" stroke-width="1"/><path d="M57.7 193.8V207.2" stroke="#2c3e50" stroke-width="1"/><path d="M76.7 187.7V207.2" stroke="#48c9b0" stroke-width="1"/><path d="M50.6 194.3V207.2" stroke="#48c9b0" stroke-width="1"/><path d="M47.8 195.3V207.2" stroke="#145a32" stroke-width="1.2"/><path d="M53.4 198.1V207.2" stroke="#e8d44d" stroke-width="1.6"/><path d="M123.5 165.9V207.2" stroke="#8e44ad" stroke-width="1.2"/><path d="M115.1 159.6V207.2" stroke="#e8d44d" stroke-width="1.6"/><path d="M128.9 158.5V207.2" stroke="#7fb239" stroke-width="3"/><path d="M120.9 171.5V207.2" stroke="#e67e22" stroke-width="1.6"/><path d="M81.5 191V207.2" stroke="#a9cf54" stroke-width="2"/><path d="M109.7 164.6V207.2" stroke="#e67e22" stroke-width="3.6"/><path d="M129.3 163.1V207.2" stroke="#641e16" stroke-width="1.6"/><path d="M52.5 194.6V207.2" stroke="#a9cf54" stroke-width="2"/><path d="M159.1 195.5V207.2" stroke="#e8d44d" stroke-width="1"/><path d="M119.5 174.3V207.2" stroke="#8e44ad" stroke-width="1"/><path d="M117.5 182.4V207.2" stroke="#2c3e50" stroke-width="1"/><path d="M165.2 161.7V207.2" stroke="#e67e22" stroke-width="1.6"/><path d="M90.2 168.1V207.2" stroke="#8e44ad" stroke-width="2"/><path d="M96.6 161.9V207.2" stroke="#a9cf54" stroke-width="3"/><path d="M135 183.8V207.2" stroke="#8e44ad" stroke-width="1"/><path d="M101.6 178.4V207.2" stroke="#e67e22" stroke-width="1"/><path d="M103.7 168V207.2" stroke="#e8d44d" stroke-width="1.6"/><path d="M153.2 196.3V207.2" stroke="#76d7c4" stroke-width="1.2"/><path d="M106.3 164.2V207.2" stroke="#641e16" stroke-width="3.6"/><path d="M157.4 194.1V207.2" stroke="#48c9b0" stroke-width="1.6"/><path d="M92.2 177.8V207.2" stroke="#2c3e50" stroke-width="2"/><path d="M141.7 171.9V207.2" stroke="#48c9b0" stroke-width="1.2"/><path d="M89.7 173.7V207.2" stroke="#641e16" stroke-width="1.2"/><path d="M58.9 192.5V207.2" stroke="#6fe0c0" stroke-width="1"/><path d="M130.2 158.9V207.2" stroke="#5b2c6f" stroke-width="1.2"/><path d="M56 194.9V207.2" stroke="#48c9b0" stroke-width="2"/><path d="M89.4 175.9V207.2" stroke="#2c3e50" stroke-width="1.6"/><path d="M130.8 161.8V207.2" stroke="#8e44ad" stroke-width="2.2"/><path d="M81.7 192.7V207.2" stroke="#5b2c6f" stroke-width="1"/><path d="M126.1 177V207.2" stroke="#641e16" stroke-width="1.6"/><path d="M122.5 169.3V207.2" stroke="#2c3e50" stroke-width="1.2"/><path d="M92.2 179.5V207.2" stroke="#8ad04a" stroke-width="1.6"/><path d="M87.5 188.9V141.3" stroke="#e8a33a" stroke-width="1.4"/><path d="M91 180.1V118.7" stroke="#e8a33a" stroke-width="1.4"/><path d="M93.5 180.1V126.3" stroke="#f0b450" stroke-width="1.4"/><path d="M97.5 180.1V128.2" stroke="#e89a2e" stroke-width="1.4"/><path d="M101.5 180.1V137.6" stroke="#f0c060" stroke-width="1.4"/><path d="M105.8 180.1V102.7" stroke="#a8906a" stroke-width="1.4"/><path d="M112 180.1V122.5" stroke="#f0b040" stroke-width="1.4"/><path d="M115.4 180.1V122.5" stroke="#8a4a16" stroke-width="1.4"/><path d="M119 180.1V109.3" stroke="#e8a33a" stroke-width="1.4"/><path d="M120.6 180.1V120.6" stroke="#f0b040" stroke-width="1.4"/><path d="M126 180.1V114" stroke="#f0b84a" stroke-width="1.4"/><path d="M134 180.1V105.6" stroke="#eab040" stroke-width="1.4"/><path d="M135.5 180.1V122.5" stroke="#a6e8b0" stroke-width="1.4"/><path d="M139.4 180.1V121.6" stroke="#eaa640" stroke-width="1.4"/><path d="M163 185.3V131.9" stroke="#e8b860" stroke-width="1.4"/><path d="M165.6 179.7V110.3" stroke="#e8c050" stroke-width="1.4"/><path d="M167 176.7V113.1" stroke="#f3e27a" stroke-width="1.4"/><path d="M130 180.1V130" stroke="#bfeec0" stroke-width="1.4"/><path d="M123 180.1V129.1" stroke="#a6e8b0" stroke-width="1.4"/><path d="M45.5 197.2V167.7" stroke="#f0a030" stroke-width="1.4"/><path d="M48.2 196.5V163.9" stroke="#7a2a1a" stroke-width="1.4"/><path d="M50 196.7V158.3" stroke="#8e44ad" stroke-width="1.4"/><path d="M69 196.7V162" stroke="#8a2a4a" stroke-width="1.4"/><path d="M70.4 196.9V167.7" stroke="#7a1f3a" stroke-width="1.4"/><path d="M146.5 198.2V152.6" stroke="#8e44ad" stroke-width="1.4"/><path d="M161 189.6V143.2" stroke="#145a32" stroke-width="1.4"/><path d="M164 183.1V141.3" stroke="#2c3e50" stroke-width="1.4"/><path d="M76 195.9V175.2" stroke="#2b6cb0" stroke-width="1.4"/><path d="M58 196.8V175.2" stroke="#2b8cb0" stroke-width="1.4"/><path d="M82 198.5V173.3" stroke="#8e44ad" stroke-width="1.4"/><path d="M41.3 200.7H43.2V193.5H45V202.5H46.3V199.6H48.2V195.6H49.4V193.5H51.3V194H53.4V192.9H55.5V191.3H57.8V186.1H59.3V186.6H60.9V182.9H63.1V196.2H65.2V201.2H67.4V193.6H68.6V200.2H70.6V195.6H72.2V193.1H74.5V196.2H76.3V196.6H77.9V193.5H79.1V194H80.5V200.7H82.8V201.7H85.1V199.2H86.5V194.8H87.7V191.9H89.1V185.5H90.9V190.2H92.7V172.8H94.7V164.6H97V171.3H98.4V185.2H100.1V183.8H101.2V177.6H102.5V177.3H103.8V197.2H105.6V191.9H107.8V165.5H110.1V173.5H111.9V181.8H114.1V186.2H115.4V192.7H117.6V174.5H119.4V170.6H121.7V168.9H124V165.6H125.6V184.5H126.7V176H129.1V180H130.9V170.9H132.9V184.1H134.4V189.8H135.6V177.4H138V171.5H139.2V176.9H140.5V188.4H141.6V180.6H143.2V187.8H145.3V202.4H146.6V196.1H147.7V193.6H149.4V194.8H151.7V193.9H153.6V199.4H154.8V201.6H156.4V200.2H158.2V187.2H159.5V183.2H160.9V183.3H163V188.2H165.3V197.2" fill="none" stroke="#a9cf54" stroke-width="1.05"/><path d="M41.1 199.5H43V198.8H45.1V198.5H47V192.8H49.2V186.8H51V185.1H52.2V196.5H53.9V190.9H55.3V196.7H57.3V197.6H58.9V193.6H61.2V185.8H62.7V180.6H64.3V193H65.7V186H67.5V190.5H68.6V192.8H70.6V195.3H71.8V191H73.7V194.3H75.1V189.1H76.6V183.4H78.7V182.7H80.6V182.9H83V189.9H84.6V192.9H86.2V193.8H88.6V193.9H90.7V192.8H93V196.2H94.4V172H95.8V175.3H98V178.1H99.5V160.4H100.7V156.2H102.5V158.3H103.6V171.2H105.5V186.5H107.7V166.5H109.5V177.5H111.7V179.6H112.9V165.8H115.1V166.4H116.4V171.4H117.7V164.2H119.2V160.4H120.4V167H122.4V182.8H124.2V184.6H125.6V175.7H127V174.9H128.4V167.3H130.4V164.5H131.7V162.3H133.9V178.6H135.1V178.5H136.9V157.8H138.4V183.1H140.8V149.4H142.3V177.5H144.1V174.7H146.2V189.7H147.5V183.9H149.6V190.1H150.9V195.1H153.2V199.2H154.4V191.1H155.9V181.5H157.1V189H159V185.8H160.1V174.4H161.6V172.3H163.8V188.4H165.4V180.3" fill="none" stroke="#1abc9c" stroke-width="1.05"/><path d="M41.4 198H43.3V195.4H45.4V187.8H47.6V191.4H49.4V189.1H50.5V182H52.6V194.6H54.3V196.9H56.1V197.7H57.3V181.9H58.9V187.9H61.2V188.8H63.5V198.9H64.7V182.5H66.6V196.6H68.3V181.7H69.8V180.9H71.4V190.7H72.7V189.8H74V186.4H76V187.3H77.2V195.1H78.5V193.1H80.5V191.7H82.8V193.4H85.2V186.3H87V186.5H88.5V179.1H89.9V158.4H91.9V156H93.8V163.1H95.5V156.3H97.9V168H99.3V161.9H100.7V175.8H101.8V159.6H103.2V186.3H104.8V172.6H106.7V163.4H108.2V183.8H109.6V179.7H111.1V171.8H112.2V179H113.4V160H115.1V177.7H116.4V172.4H117.5V151.9H118.9V166.3H120.5V141.8H122.1V176.9H124.4V156.2H126.6V161.9H127.9V176.5H129.6V168.9H131.8V181.5H133.4V189.8H135V159H136.3V157.7H138.6V176.6H140.8V170.1H142.4V194.4H143.6V189.2H145.6V192.8H147V196.5H149.2V200.3H150.3V199.2H152.7V195.3H154.7V188H156.6V198.9H158.2V195.5H159.9V191.3H161.1V188.1H163.1V172.8H164.7V185.3H166.5V167" fill="none" stroke="#9b59b6" stroke-width="1.05"/><path d="M42.1 196.2H44V191.3H46.1V188.2H47.5V181.7H48.7V193.9H51.1V200.5H52.5V200.4H54.2V194.5H56.4V192.7H57.9V184.2H60.1V190.2H61.6V189.5H63.1V196H64.2V198.4H65.9V192.3H68.2V198.4H69.8V193.7H71.3V183.1H73V184.2H74.2V189.8H75.3V181.2H77.3V190.5H79.7V198.2H81.2V191.6H82.3V195.1H84.5V191.3H86.6V175H88.7V186.1H90.1V175.1H92V176.3H93.7V184.4H95.9V188.3H98.3V173.6H100.5V186.6H102.4V167.1H104.1V148H105.4V186.7H106.9V186H108V159.6H109.6V155H110.9V158.1H113.1V172.1H114.7V160.5H116.3V163.5H117.8V171.4H119.8V186H121.5V185.1H123.3V170.9H125.3V165.7H126.7V171.4H128.7V166.8H131.1V170.1H132.5V157.4H134.2V175.4H135.9V165.2H137.8V164.8H139.5V158.5H141.2V161.8H143.6V178.7H145.3V187.8H147.5V189.1H149.7V192.3H151.5V194.4H152.7V187.9H154.9V185.7H157V195.6H158.5V182.2H160.1V171.3H162.5V172.5H163.9V173.4H165.4V168.8H166.7V166.8" fill="none" stroke="#3a9ad9" stroke-width="1.05"/><path d="M42.1 194.5H44.2V197.1H46.1V191H47.9V188.2H49.7V188.6H51.7V189H53.6V198.6H55.3V190.8H56.7V193.4H58.3V186.7H60.1V193.6H61.7V186.5H64V193.3H65.8V192.2H68.1V187.4H70.1V192H72.1V186.7H73.4V191.2H75.3V187.4H77.4V188.4H79.6V183.1H81.4V193.7H83.1V197.7H84.9V191.7H86.1V191.9H88.3V187.2H90.1V176H91.7V189.6H93.7V188.1H95.2V158.4H96.9V184.1H98.4V165.4H100.2V160.8H102.3V178H103.9V176.1H105V167.6H106.3V176H108.3V183.3H109.4V158.1H111V167.8H112.8V164.1H114.2V166.9H115.8V174.3H118V178.4H119.9V181.8H121.8V163.2H123.8V177.2H125.8V152.7H127.5V159.9H128.7V162.1H130.9V162.8H132.4V153.8H134.1V157.1H135.8V177.4H138.1V166.3H139.3V172.2H140.9V179.5H142.5V173.7H144.2V180.4H145.6V186.6H147.8V190.6H149.6V183.5H151V195.1H152.2V188.1H153.5V181.8H155.6V195.9H156.9V187.6H158.9V179.7H161.1V175.4H162.9V183.3H164.6V182.7H166.8V167" fill="none" stroke="#641e16" stroke-width="1.05"/><path d="M41.9 186.4H43.1V189.3H44.7V187.1H46.6V193.5H48.9V193.6H50.7V192.8H51.9V200.2H54.3V187H55.5V196.1H57.2V194.1H58.4V190.1H59.7V194.2H62.1V176.3H63.2V184.6H65.1V190.6H66.3V178.9H67.4V185.9H69.5V197.4H71.8V188.8H73V189.1H74.5V188.4H75.8V195.3H77.4V195.1H78.8V195.8H80.3V187.1H81.5V195.5H83.9V193.2H85.5V187.7H87.6V188.7H89.4V183.6H90.5V172.1H92.9V157.5H94.9V163.6H97.2V150.8H98.4V160.9H100V185.3H101.8V169.8H104.1V189.6H106.2V165.6H108V161.4H109.9V163.8H112.3V172.4H113.6V170.7H115V166.3H116.3V187.3H118.2V178.2H119.8V161.8H121.5V162.4H123.7V171H125.2V168.5H126.5V168.5H128V159.6H129.6V180.1H131.5V184.5H133.5V167H135.6V160.4H137.9V171.3H139.6V173.4H141.2V184.6H143.5V176H145.7V190.7H147.1V195.1H149.2V183.3H150.4V192.9H151.9V192.3H153.8V199.2H155.9V189.7H157.9V189.5H159.2V187.3H161.2V183.7H163.1V158.9H165.4V157.9" fill="none" stroke="#e67e22" stroke-width="1.05"/><path d="M41.4 199.1H43.2V196.4H45.1V201.8H46.6V192H48.2V195.4H49.9V192.5H52.2V195.4H54V198.2H55.8V196.1H57.9V193.9H59.2V188.4H60.4V194.7H62V191.4H64V195.9H65.2V200.6H66.9V192.8H68.7V197.5H70.1V194.6H72.4V193H74V197.4H75.6V195H77.8V195.3H80V195.3H82V192.7H83.9V196.1H85.5V197H86.9V190.7H88.3V185.9H90.5V172.1H92.5V178.5H94.3V174.5H96.4V168.4H98.1V171H99.6V174.1H101.3V160.9H102.9V182.2H104.9V170.9H106.7V183H108.2V162.5H109.4V176.2H111.2V184.8H112.5V167.6H113.9V179.6H115.8V163.3H117.7V175H119.3V161.1H120.9V175.9H122.3V181.3H124.3V180.3H125.5V190.1H127.7V200H129.1V186.6H130.8V187.7H132.2V193H134.1V190.6H135.8V178.2H137.8V177.6H139.5V176.8H141.8V192.3H143.9V194.5H146.1V192.9H147.7V190.2H149.9V198.3H151.7V197.6H152.9V201.3H154.8V195.9H156.9V198.5H159.2V193.9H160.7V186.6H162.7V191.8H165V186.3" fill="none" stroke="#6fcf5f" stroke-width="1.05"/><path d="M41.9 198.3H43.2V201.2H44.7V196.9H46.6V194H48.8V190.6H51.2V194H52.4V199.7H54.4V186.3H56.4V195.5H58.2V196H59.7V191.9H61.5V186.3H62.8V183.8H64.2V179.8H66.3V190H67.6V195.9H68.8V194.1H69.9V201.5H71.3V197.7H72.9V194.1H74.6V198.2H75.7V186.9H78V193.5H80V196H82.1V183.7H83.7V185.8H85.8V176H88.1V162.7H90V165.3H91.3V162.1H92.8V162.1H95.2V165.7H97.4V160.1H98.5V186.8H100.4V183.9H102.5V156.7H104.1V161.7H105.4V154H106.7V177.3H108.5V158.1H109.7V157.1H111.9V168.1H113.3V188.4H114.6V160.9H116.5V153.9H118.8V152.2H120.7V176.1H122.6V163.4H124.4V149.8H126.1V156.5H127.9V164.3H129V177.3H130.3V161.2H131.8V147.7H134.1V178.6H136.1V175H138V177.1H140.1V192H142.4V184.7H144.1V181.3H145.3V175.7H147.4V184.5H148.6V180.7H150.5V194.4H152V189.6H153.2V197.4H155.2V198.7H157.1V195.7H159.2V178.6H161.1V183.9H162.7V168.5H164.9V168.3H166.1V138.3" fill="none" stroke="#f1c40f" stroke-width="1.05"/><path d="M41.2 195.5H42.6V189.5H44V187.1H46V191.3H47.2V186.5H49.1V196.2H51.4V186.3H52.7V194.7H53.9V193.4H56.2V183.5H58.3V191.2H60V180.2H62.2V197.2H64.6V192.6H66V187.7H67.1V191.9H68.6V185H70.4V194.5H71.6V198.2H72.7V183.5H74.9V186.7H77.2V196.7H79.5V190H80.9V185.4H82.6V194.2H84.6V192.5H86.2V196.3H88.5V183.6H90V171.6H91.4V188.5H93.4V179.2H95.5V165.2H97.2V160.6H99.1V149.3H100.5V164.5H102.6V160.6H104.4V177.9H106.7V161.8H108.8V179.9H110.4V168.9H111.5V166.3H113V181.9H114.1V181.8H115.8V183.6H117.6V169.8H119.8V152.4H121.5V159.8H123.7V169.1H126V184.8H127.3V180.2H129.3V168.1H131.4V158H133.4V169.6H134.5V168.6H136.9V176.7H138.1V176.8H140V151.3H141.4V174.5H142.9V178.5H144.3V173.6H145.7V181H148.1V183.3H150.2V192.4H151.7V191.8H153.1V178.6H155.3V188.7H157.5V194.6H159.2V164.8H161.2V171.8H163.4V149.9H165.1V138.9H166.7V172.7" fill="none" stroke="#f5b041" stroke-width="1.05"/><path d="M42.1 194H44V199.9H45.2V186H47.3V177.5H48.4V182.1H50V190.3H51.9V183.2H54.1V198.8H56.5V194.3H58V195.9H60.2V187.6H61.6V195.1H63.3V193.4H64.9V187.4H66.7V185.7H68.8V176.5H70.6V187.5H72.4V186H74.4V196.8H75.9V180.8H78.2V192H79.4V195.9H81.2V201.5H83.3V200.3H84.5V186.3H86.5V181.7H88.2V180.3H89.7V156.8H92.1V149.5H93.4V167.8H94.9V177.3H96.6V173.1H98.8V181.5H101V176.5H103.2V174.6H105.5V159.7H107.8V178.9H109.3V184.6H111.2V178.9H112.9V163.4H114.5V171.4H116.5V152.8H118.3V163.1H119.9V182.2H122.2V163.6H124.5V190.4H126.6V170.4H127.9V173.9H130.1V187.1H131.2V157.7H133.5V151.2H135.1V165H136.5V158.5H138.8V162.4H140.8V161.5H141.9V179.7H144V176H146.1V192.9H147.3V199.2H149.5V188.8H150.9V187.6H152.1V192.8H154V199.3H156.3V200.7H158.4V194H159.9V170.6H161.7V175.1H163.7V163.8H165.2V152.3" fill="none" stroke="#2b6cb0" stroke-width="1.05"/><path d="M41.3 198.2H42.9V190.6H44.7V192.2H46.3V196.5H48.4V201.8H50.6V196.9H52.6V199.2H54.2V194H56V198.3H57.4V202.5H59.2V198.5H60.9V198.4H62.3V190.5H64.1V195.7H66.2V194.1H67.9V191.9H69V192.1H70.7V193H72.7V198H74.3V194.7H75.9V196H77.2V195.8H78.3V190.8H80V200.3H81.3V199H83.1V197.6H84.9V197.7H86.4V197.8H88.3V191.9H90.4V184.9H91.9V182.7H94.1V181.3H95.9V183H98V187.1H100.2V198H102.4V200.6H103.9V181.6H105.7V176.4H107.5V181.2H109.2V183.7H110.6V185.3H112.6V175.7H115V185.2H117V198.2H118.3V187.3H120.3V175.5H122.3V168.9H123.5V186.5H125V175.8H126.7V175.4H128.7V167.4H130.2V175.9H132V184.6H133.4V183.2H135.5V189.3H137V173.6H138.9V187.1H141.2V185.3H143.2V193.8H145.3V197.9H147.2V202.9H149V197.6H150.9V196.9H153.3V194H154.7V201H156.5V200.9H158.5V196H160.2V184.7H162.2V181.9H163.7V177.7H165.3V189.3H166.6V161.1" fill="none" stroke="#6e2c00" stroke-width="1.05"/><path d="M42.1 197H44.2V203.6H46V198.2H47.4V199.6H49.1V194.1H50.4V197.8H52.4V200.1H54.5V197.6H56.2V199.9H57.6V203H59.2V194.3H61.5V195.4H63.5V199.3H65.1V201.8H66.3V196.1H68.7V191.4H71V199.1H72.5V199H74.2V193.6H76.1V198.7H77.8V198.5H79.2V195.8H80.8V197.3H82V204H83.4V204.1H84.8V203.5H86.5V196.9H88.1V197.7H89.3V195H91.6V169.6H93.5V187.4H95.5V195.1H97.2V186.9H98.8V201.8H101.1V182.4H102.3V186H103.9V188.1H105.6V192.5H107.4V175.2H109.7V176.4H111.4V184.9H113.2V189H115.1V183.3H116.4V180.7H118.6V182.7H120.4V189.3H121.7V187.4H124V186.3H125.7V178.3H127.8V178.6H129.1V172.6H130.7V187.5H132.9V185.9H135.1V174.8H136.4V178H138.5V186.3H140.8V178.4H142.8V179.2H144.5V189.9H146.8V195.6H147.9V195.7H150V199.1H151.4V199.2H152.9V199.5H155V203.9H157.2V204.5H158.3V197.5H160.1V197.7H161.9V190.4H163.8V190.2H165.8V177.6" fill="none" stroke="#7fb239" stroke-width="1.05"/><path d="M41.4 200.7H43.4V192.3H44.9V203.2H46.4V198.8H48.1V198.2H49.2V192.1H50.4V192.3H52.2V198.6H54.1V202.4H55.8V198.8H57.1V199.9H58.9V201.2H60.5V194H62.1V189.3H63.2V198.1H65V195.6H66.2V194.3H68.1V196.3H69.3V195.5H71.1V200H72.5V195.8H74.7V199.7H76.6V200.1H77.8V196.9H79.1V193.9H80.6V199.8H82.3V197.2H84.1V194.1H85.6V191.9H86.9V187.6H88.8V168.8H90.8V161H92.6V168.9H94.1V164H96V168.5H98V177.1H99.9V168.1H101.5V160.9H102.7V182.3H104.1V168.5H106.4V177.7H108.3V174.7H110.4V175.1H112.7V174.1H114.2V176.5H116.2V177.9H117.7V165.7H119.8V173.7H121V176.8H122.4V174.4H123.5V182.5H124.8V187.4H125.9V167.5H127.2V176.4H129.1V160.9H130.3V177.3H131.4V178.6H132.6V163.1H133.9V183H135.7V161.9H137.1V174.3H138.7V166.1H140.6V179.2H142.2V192.1H144.1V200.5H146.3V197.3H147.8V193.2H148.9V200.2H150.5V201.6H151.8V200.2H153.2V190.1H155.6V192.2H157.4V187.2H158.8V187.2H161.2V162.5H163.5V174.1H165.3V158.8H166.6V179.6" fill="none" stroke="#8e44ad" stroke-width="1.05"/><path d="M42.2 197.6H43.6V195.6H45.2V189.4H46.7V190.6H48V178.9H50.3V183H51.9V186.7H53.1V184.8H55.4V186H57.5V189.1H59.9V182.8H61.4V178.5H63.6V171.3H65.2V187.2H66.6V191.8H68.5V198H70.4V190.9H71.6V190.9H73.3V192.4H75.3V190.3H76.5V191H77.7V186.8H79.6V200.3H81.8V187.7H83.3V185.6H85.2V194.7H87.1V159.1H88.5V180.3H90.6V178.9H92.7V163.7H95.1V170H97.1V161.6H98.5V167.6H100.3V150.8H101.7V162.2H102.9V173.7H104.1V164.2H105.4V172.8H107.3V149.8H109.4V143.6H111.5V155.8H113.4V166.9H115.1V154H117.3V161.2H118.4V177.9H120.6V157.8H122.2V150.5H124V150.1H126.2V163.3H128.4V155.4H129.7V159.2H131V149.8H132.9V154.4H135.1V155.6H136.2V150.5H137.8V161.1H139V171.9H140.1V172.9H141.5V168.4H142.7V175.5H144.7V183.2H146V195.2H148.3V186.7H150V184.4H152V191.3H154.1V197.3H155.8V187.5H157.6V198.7H159.2V180.2H160.6V177H162.2V166.8H163.6V161H165.7V153.6" fill="none" stroke="#27ae60" stroke-width="1.05"/><path d="M41.5 192.1H42.6V196.1H44.5V190.8H46.3V189.5H48.1V180.3H49.8V195.8H51.7V183.3H53.3V184.3H55.3V189.5H57V183.2H58.6V187.4H60.1V192.1H61.6V179.3H63.7V188.4H65.7V180.7H67.1V192H69V191.7H71.1V185.3H73.1V198.5H74.5V190.1H76.8V194.7H78.4V193.7H79.8V194.4H81.6V191.1H82.7V190.5H84.2V195.8H85.9V192.9H87.7V178.9H89V179.6H91.2V172.4H92.9V178.8H95.2V184.6H97.5V170H99.5V160.1H101.1V162.6H103.3V147.1H105.1V165.4H106.8V159.7H108.2V169.8H110.5V170.5H112.5V181.4H114.9V192.2H116.9V169.2H118.3V162.3H120.6V159.2H122.4V172.8H123.8V157.6H126.1V183.7H127.9V171.4H129.8V160.1H131.5V172.4H132.7V169.3H135V161.9H136.8V165.6H138.6V172.8H140.1V186.1H141.3V175.1H142.8V175.5H143.9V178.5H145.5V190.8H147.7V193.8H149.4V186.6H151.8V189.7H153.6V190.9H155.6V184H156.8V191.3H159V193.9H160.1V188.9H161.2V189.8H163.3V182.4H165.4V184.6H166.6V159.4" fill="none" stroke="#16a085" stroke-width="1.05"/><path d="M41.4 187.1H43.2V194.2H45.1V189.7H46.4V191H47.7V182.1H49.3V188.3H51.4V191.2H52.8V198.2H54V192.4H55.4V193.5H57.4V180.1H58.9V189.7H60.3V180.5H62.1V183.3H64.5V187.9H66.3V192.7H67.9V182.4H69.6V190.8H71.3V191.9H72.9V184.8H74.5V170.3H76.5V187.8H77.6V183.2H79V192.8H80.9V196.8H82.2V193.7H83.8V191.6H86V187.1H88V186.5H90.3V172.2H91.8V164.7H93.1V180.1H95.2V185.9H96.6V161.5H99V181.7H101.1V162.5H103.1V155.8H105.5V155.5H107.3V153.5H109.3V164.1H111.7V159.2H113.2V173.9H114.4V166.8H116.1V175.4H118.4V154.4H120.2V163.7H122.4V168.9H124.1V174.2H126.2V145.8H127.4V178.4H129.6V167.7H131.3V177.5H132.8V165.5H134.8V146.7H136.8V162.7H138.5V163.9H140.8V171.6H142.4V171.8H144.4V191.3H146V198.8H148.4V198H149.6V197.8H151.7V193.9H153.5V196.7H154.9V195.7H157.2V196.4H158.5V189.6H159.9V169.6H161V139.9H162.2V147.8H164.4V159H165.7V173.1" fill="none" stroke="#e8c23a" stroke-width="1.05"/><path d="M41.8 191.9H43.6V195.9H45.4V189.4H46.9V190.9H48.9V191.7H50.6V191.9H51.9V190.5H53.2V200H55.2V201.2H56.5V192.7H58.4V199.3H59.6V193.1H62V190.5H64.1V193.1H65.4V196.2H67.8V196.3H69.6V201.3H71.3V200.9H72.8V194.5H74.9V195.7H76.8V191.7H78.2V195.9H79.6V193.6H80.7V201.3H82V199.2H83.5V196.1H84.7V195.1H86.6V176.3H88.2V186.1H90V164.7H91.4V179.2H93.8V172.1H95.5V172.5H97.6V164.3H99.7V167.7H102V184.7H103.5V178.6H105.2V162.2H106.4V178.2H108.6V179.1H110.4V176.3H111.9V172.3H113.9V168.9H115.9V177.7H117.5V179.1H119.7V170.2H121.1V144H122.9V163.7H124.2V162H125.6V179.5H127V188.6H128.7V183H129.9V186.2H131.7V186.8H133.4V187.7H134.6V160.8H136.5V177.1H138V186.3H140.1V185.3H141.6V191.3H143.3V177.9H145V193.1H146.1V190H148.3V193.9H150V187.9H151.7V187.5H153.2V189.9H155.2V197.1H157.3V193.3H159.5V200.1H161.8V183.2H162.9V173.9H164.4V175.5H166.4V181.4" fill="none" stroke="#d35400" stroke-width="1.05"/><path d="M41.4 194.8H42.8V202.6H45.1V200.1H46.5V202.7H48.4V199.6H50.2V193H51.4V201.8H52.7V199H54.5V196.3H56.2V197.4H57.7V197.5H59.4V195.2H61.7V194.9H63.7V192.6H65.6V194.6H66.8V198.7H68V194.3H69.8V193.9H71.9V196.8H74.1V202.8H76.3V194.1H78.1V197.7H79.3V194.5H81.4V190.3H83.1V197.7H84.9V193.8H87.1V193.8H88.3V192.2H89.9V178.7H91.2V185.5H93.3V177.7H95.1V157.9H97.5V178.9H98.9V177.1H100.1V176H101.4V176.3H103.4V177.4H105.5V193.1H107.8V177.3H109.5V180H111.7V195.1H113.3V195.8H114.5V182.6H116.4V179.9H118.6V191H119.9V195.7H121.5V184.7H123.4V170.5H125.2V175.7H127.2V176.7H129.5V167.4H131.6V169.3H133.4V185.8H134.5V188.4H136V186.6H138V189.9H139.4V172.8H141.6V185.5H143.8V182.9H145.2V196.7H147.3V197.2H149.3V202.2H151.3V198.4H153.1V202.2H155.3V196.6H157V192.2H158.1V191.1H160V195H161.3V178.8H163.3V195.2H165.5V194.3H166.7V177.6" fill="none" stroke="#1f618d" stroke-width="1.05"/><path d="M41.4 191.6H43V185.5H45.1V194.5H47.4V197.7H48.9V193.8H50.9V189.5H53.3V176.1H55.4V195.1H57.2V192.8H58.5V187.7H60.7V182H62.2V189.4H64.4V190.8H66.1V183.5H67.4V192.2H68.6V183.3H71V194.6H72.4V187.6H74V197.5H75.2V189.3H77.3V197.1H79.6V194.5H81.7V195.6H83.2V196.8H84.3V193.9H86.2V195.4H88.3V181.1H90.2V167.5H92V162.2H93.8V160.2H95.1V160.9H97.2V174H98.3V156.9H100.2V174.3H101.7V156.3H103.5V163.5H104.8V160.2H106.3V169.6H108.5V150.6H110.4V161.8H112V175.2H113.9V169.9H115.1V171.2H116.7V177.8H117.8V180.5H119V181.8H121.3V168.9H123.1V153.5H124.6V168.3H126.3V171.4H127.7V189.2H129.2V173H131.6V174.8H133.7V173.1H135.5V167.9H137.7V149.8H139.5V173.1H141.1V157.1H143.5V181.1H145V190.3H146.9V191.1H148.4V186H150.4V196.8H151.8V199.4H153.8V197.3H155.9V201H158.2V192.1H159.5V179.5H161V170.7H163.4V183.1H165.2V164.4" fill="none" stroke="#e8d44d" stroke-width="1.05"/><path d="M42.1 199.5H44.4V195H45.9V198.2H47.4V197.8H49.1V197.2H51.3V194.1H53.2V192H54.4V198.2H56.7V200.2H58.1V193.1H60V194.8H62.4V194.7H63.7V189.8H65.7V190.9H67.3V187.6H69V192H71V194.7H72.9V200.1H74.9V199.1H77.3V194.3H78.6V195.3H79.9V199H82.1V201.4H84.1V195.8H86.1V196H87.5V184.2H88.8V199.4H91.2V184.9H92.5V188H94.9V173.4H97V164.8H98.9V170.6H100.9V182.2H103.2V178.6H105.2V169.1H107.1V177.4H108.4V189.8H110.7V185.8H111.9V185.5H113.2V187.7H114.4V178.1H116.3V186.3H118.1V166.3H120.3V175H121.7V169.9H123.5V185.1H125.8V185.5H127.4V183.9H129.3V172.6H131.6V177.4H133.7V176H135.4V163.3H137.4V165.4H139.5V176.2H140.8V187.5H142.2V186.2H144.4V183.4H145.7V192.1H147.1V200.4H149.4V198.1H150.7V200.4H152.4V204H153.6V202.7H155.2V204.9H156.5V200.6H158.5V202.9H159.7V186.2H161.4V187.4H163V178H164.4V182.6H166.3V176.6" fill="none" stroke="#48c9b0" stroke-width="1.05"/><path d="M41.1 189.2H43V191.4H44.3V181.8H46.2V192.3H48.3V190.1H49.5V189.2H50.8V192.1H52.5V183.6H54.8V189.1H56.8V180.4H59V186.7H60.9V194.9H63.2V197.5H65.3V193.7H67V195.8H68.8V186.3H70.7V185.2H72.7V176.2H74.1V182.9H75.4V177.9H77.3V179.3H79.4V177.5H80.8V193H82.1V195.1H84.2V180.4H86.5V192H88.8V174H91V159.4H93V161.8H95.1V160.6H96.9V147.8H99V147.2H100.4V157.8H102.3V160.7H104.2V147.1H106.1V143.7H107.3V156.6H109.4V164H111.4V156.4H112.8V146.1H114.1V171.2H115.6V169H117V169.4H118.3V184.5H119.6V165.8H121.7V162.5H123.6V153.4H125.5V167.8H127.5V165.6H129.4V160.7H130.7V160.5H132.5V162.8H134V178H135.9V166.1H137.1V144.5H138.7V161.1H139.9V151.2H142.1V166H144.3V190.2H145.8V194.4H147.2V196.9H149V194.1H151.3V186.2H152.6V187.7H153.8V189.2H156.1V187.2H157.4V195.8H159.6V167.8H161.9V179.9H163.9V130.6H165.8V158.3" fill="none" stroke="#c0392b" stroke-width="1.05"/><path d="M41.1 189.7H42.4V195H44.1V198.5H45.3V197.2H47.3V191.3H48.9V195.6H50.2V193.3H51.6V191.6H52.7V191.8H54.9V186.5H56.1V193.6H58V188.2H59.2V182.7H60.8V195H62V184.1H63.4V190.7H65.3V190.6H67.2V179.2H69.3V193.6H71.3V186.6H72.4V183.9H73.5V188.7H75.9V188.3H77.2V183.8H78.6V194.7H80.2V190.6H81.6V194.1H83.8V194.3H85.7V184.9H87.9V183.6H89.9V179.1H91.2V180.2H92.8V187.2H94V162.9H96.3V170.6H98V184.3H100.2V165.5H101.5V160.7H103.5V161.2H105.1V168.9H106.9V157.6H108.2V178.4H110.4V179.5H112.4V163.8H114.6V158.4H116.4V164.8H118.6V155.3H119.7V161.9H121.4V170H122.7V163.2H124.3V157.6H126.5V178.4H128.7V176.7H130.2V182.8H131.5V168.2H133.6V187.7H134.7V163.2H136.4V163.1H138.2V165.7H139.6V171.2H141V164.2H143.2V173.2H144.6V186.1H146.8V188.7H148.9V198.2H150.4V192.4H152.8V192.2H154.2V192.8H155.5V186.2H157.3V198.3H158.8V175.5H160.2V175.2H161.4V175.2H163.6V185.7H164.8V140.3H166.4V158" fill="none" stroke="#2c3e50" stroke-width="1.05"/><path d="M41.9 193.6H43.1V197.1H45.2V192.5H46.8V189.8H48.2V194H50V194.8H51.6V201.4H53.7V193.1H55.2V202.4H57V200.9H58.9V200.4H60.1V200.9H62.1V194.7H63.7V195.5H65.8V200.2H67.9V201.7H69.8V198.2H71.9V203.2H73.3V199.7H75V198.6H76.4V193.1H78V195.1H79.7V199.2H81.9V202.5H83.5V197.3H85.6V186.9H87.6V183.9H89.7V182.2H91.9V181.4H93.2V191.2H95.5V187.5H97.3V184.4H99.6V187.1H102V162.1H104V161.8H106.1V157.9H107.6V188.1H110V180.4H112.3V178.9H114V186.4H115.2V177.8H116.4V186H118V178H119.5V183.1H120.7V177.2H122.6V170.5H123.9V182H126.3V183.6H127.5V183.2H129.9V184.3H131.6V189.5H133.8V192.6H135V191.3H137V196.2H139.4V188.7H140.8V179.6H142V188.9H144.1V186.9H146.3V199.9H148.4V195.1H150.3V195.4H152.4V194.5H154.6V200.5H156.7V198.5H158.8V191.8H160V194H162.1V191.6H164.1V184.8H165.3V171.3H167V157.5" fill="none" stroke="#5b2c6f" stroke-width="1.05"/><path d="M42 193.5H44.1V198.2H45.4V195.7H47V185.2H49.2V190.5H50.3V195.1H51.6V195.6H53.2V192.6H55V188.8H56.1V185.1H58.1V194.6H59.9V189.1H61.5V190.3H63V187.7H65.1V173.1H66.6V188.9H68.4V194.4H69.6V199.4H70.7V187.6H72.7V186.7H74.7V192.5H76.4V183.2H78.4V195.1H80.7V192.3H81.8V190.6H83V189H84.5V185.5H86.1V173.5H87.3V171.2H88.7V179.3H90.5V162H92.8V179.4H94.2V167.5H95.7V173.6H97.7V157.1H100.1V176.6H102.4V154.6H103.8V158.8H105.2V153.9H107.4V181.6H109.2V181.4H111.1V158.2H113.3V162H115V164.8H116.3V177.6H117.9V174.1H119V162.6H121.3V178.3H123.4V177.7H125.6V173.4H127.3V150.2H128.9V159.5H130.8V169H132.4V164H134.2V184.9H136.3V173.7H137.7V164.9H139.4V159.5H141.5V169.2H142.6V179.1H143.8V178.6H145.6V188.7H147.2V199.1H149.5V192.9H151.7V197.4H153.3V192.9H154.5V197.7H156.8V199H158V191.8H159.2V195.8H161.4V162.4H163.2V161H164.8V167.7H166.2V177.2" fill="none" stroke="#b03a2e" stroke-width="1.05"/><path d="M41.9 193.6H43.9V192.6H45.7V196.7H46.9V200.5H48V194.5H49.9V187.7H52.1V198H53.6V201.2H54.7V193.5H56.1V203.4H58.4V200.9H59.6V193.4H61.8V198.2H62.9V200.1H64.3V199.1H65.5V198H67.7V194.4H70V191.9H72.2V199.6H73.7V194.4H75.2V196.8H77.3V195.5H78.5V200.3H80.3V199.6H81.4V194.4H83.6V201.8H84.8V193.2H87.1V186.6H88.6V177.2H90.5V169.6H91.9V185H93.6V174.2H95.1V177.4H96.9V174.6H98.8V183.2H100.5V184.6H102V175.1H103.7V167.9H106V178H108.2V169.1H110.4V159.2H112.7V181.7H114.8V159.9H116.6V168.2H118.7V178.7H120.7V179.1H121.9V195.6H123.1V197.9H124.6V195.9H126.6V189.9H128V182.7H129.9V199.5H131.5V190H133.7V171.1H135.6V178.7H137.4V171.2H139.1V187.3H141.4V176H143.1V177.3H145.3V199.2H146.5V195.6H148.6V200.6H150.5V195.7H151.7V193.8H153.3V198.7H155.4V192.3H157.1V198H159.5V189.5H161.6V186.2H163.7V177H165.3V187.3" fill="none" stroke="#2e86c1" stroke-width="1.05"/><path d="M41.7 197H43.4V202.7H44.8V202.6H45.9V204.3H48.2V197.9H49.5V192.7H50.9V199.3H52.7V200.1H54.7V193.8H56.2V193.6H57.9V185H59.6V192.7H61.9V192.9H63.2V193H65.3V197.1H66.6V195.1H69V189.3H70.1V198.6H72.3V201.3H74.7V198.7H75.8V195H78.1V198.7H79.8V199.4H81.8V201.8H83.7V200.2H86.1V191.5H88.3V191.6H90.3V182.1H92.1V183.1H93.5V176.8H95.5V175.5H96.8V187.3H98.2V186.8H99.6V169.9H100.8V180.6H102.5V192H104V184.8H105.9V179.1H107.3V184.8H108.9V194.6H111.1V187.8H113.5V190.9H114.7V188.3H116V175.2H117.4V189.5H118.7V175.4H120.8V185.9H122.8V190.9H125.2V162.7H127.3V180.3H128.6V186.5H130.1V188.4H131.3V161.9H133.1V190.3H135.5V199H136.7V177.5H138.4V178.5H140V174.1H141.7V186.8H142.8V189.1H144.7V196.4H145.9V201.6H147.1V204.4H148.4V198H149.9V201H151.2V204.1H153.4V203.1H154.9V204.3H156.2V203.4H158.1V197.8H159.5V191.8H160.6V187.7H161.8V182.7H164.1V183.6H166V184.2" fill="none" stroke="#b8860b" stroke-width="1.05"/><path d="M41.5 188.3H43V189H45.2V191.7H46.4V177H48.1V171.8H49.6V184H50.7V194.3H52.2V198.1H53.8V190.9H55V189.7H56.5V192.1H58.3V190.3H60.2V178.4H62.3V171.5H63.9V180.3H66.3V183.4H67.6V175.2H68.8V185.7H71V189.8H72.5V200H73.9V191.3H76.1V189.5H77.5V189.2H79.1V190.9H81.4V197.9H82.9V200.5H84.4V189.3H85.7V182.4H88.1V196.7H90.2V170.3H92.3V160.8H94V143.4H95.1V150.1H97V156.3H99.3V157.2H100.6V186.7H101.7V157.1H103.2V152.3H104.7V169.9H105.8V158.5H108.1V165.5H110.2V166.9H111.5V163.4H112.7V157.7H114.4V151.8H116.2V177.6H117.3V168.6H118.9V162.9H121.3V157.7H122.8V157.1H124.9V160H126.8V176.2H129.1V168H131V158.9H132.6V164.1H133.8V167H134.9V185.3H136.7V163.2H138.9V160.6H140.4V178H142.5V163.4H143.7V175.1H145.2V173.9H146.4V175.6H148.6V192.3H150.6V181.7H152.5V196.4H154.7V183.8H156.3V189H158.6V192.4H160.9V182.3H162V182.6H164.1V151.4H165.6V159.8" fill="none" stroke="#7d6608" stroke-width="1.05"/><path d="M42.2 191.6H44.3V194.3H46.3V188.6H48.2V186.1H49.3V187.8H50.6V191.6H52V198.5H54.3V195.1H56.5V201.5H58.3V191.3H59.4V193.1H61.6V188.3H63.1V197.6H65.1V197.6H66.9V192.8H69V196H70.3V196.9H71.6V192H72.8V195.9H74V201.8H76.3V195.5H78.4V202.4H79.9V200.7H81.8V203.3H83.3V201.9H85.3V194.5H86.7V189.7H87.8V189H89.1V187.1H91.2V170.3H93.5V179H95.2V172.1H97.4V180H98.5V174.6H100.7V177.2H102.5V177.5H104.6V168.3H105.9V184H107.6V175.9H108.7V162.8H110.1V163.4H112.5V173.4H114.4V179.1H116.5V169H118.1V174.3H119.4V170.4H121.1V162.3H122.7V187.3H124.4V185.7H126.3V163.9H128.1V167.1H130V168.8H131.5V173.7H133.7V185.9H135.5V187.7H137.9V158.2H140.1V185.5H141.7V179.4H143.3V185.2H145.3V195.5H146.8V200.3H148.1V200.1H149.2V192.8H151.4V195.8H152.8V194.5H154.5V204.1H155.8V193.3H157.2V198.7H159.1V198.1H160.7V195.2H162.7V178.5H164.6V170.7H166.1V177.4" fill="none" stroke="#76d7c4" stroke-width="1.05"/><path d="M42 191.5H43.8V181.5H45.1V191.2H46.3V175.1H48.3V184.4H50.2V196.2H52.6V191.8H54.7V200.7H57V201.1H58.7V191.3H60.2V196.1H62V184.6H63.8V189.3H65.6V181.5H66.9V186.3H69.1V184H70.5V190.2H72.5V194.4H74.6V191.2H76.4V178.8H77.9V192.1H79.8V191.2H81.2V196.1H83.5V190.7H84.7V175.2H86.4V166.8H87.8V171.5H89.2V177.5H90.5V171.6H91.9V162.3H94.2V149.8H95.5V178.4H96.8V158.7H99.1V171.7H101V153.7H103.3V158.6H104.9V145.3H106.6V157H108.2V181.4H109.7V167.5H111.5V168.7H113.5V173.8H115.3V162.6H117.2V150.2H118.6V158.3H120.9V157.8H122.8V170.7H124.3V162H126.2V158.4H128.5V154.1H130.1V157.2H132.4V154.4H134.6V160.9H136.9V175.7H139.1V152.7H140.9V161H142.6V168.2H144.8V190.8H146.8V187H148.7V188.6H150.5V183.5H152.2V193.7H153.6V197.8H155.6V183.3H157.1V198H158.6V192H159.7V188.6H161.5V187.7H163.3V190.3H164.8V174.8H166.9V126" fill="none" stroke="#1f3a5f" stroke-width="1.05"/><path d="M42.2 189.4H43.3V197.4H44.6V193.3H45.7V196.3H47.4V190.2H49.1V180.6H50.3V186.7H52.2V190.6H53.9V198.4H55.5V197.8H56.6V197.7H58.1V196.2H60.2V186.1H62V192.4H63.7V189.3H65.2V182.2H66.5V186.1H68V188H69.3V187.1H71.2V187.9H73.4V195.3H75.8V190H77.3V194.8H78.9V190.6H80.2V189.5H81.4V194.1H83.3V197.9H85.7V194.1H87.3V186.9H89.6V177.7H90.7V168.3H92.5V165.9H94.8V166.4H96.4V166H97.5V160H99.8V168.7H101V182.1H102.1V178.7H103.9V178.1H105.3V177.5H106.7V161.3H108.8V159.1H111V172.2H112.3V158.6H113.4V157H115.8V174.2H117.1V170.3H119.4V186.8H120.7V170.4H122.6V185.1H124V156.6H125.2V181.4H127.4V181.1H129.4V152.2H131.7V157.1H133.2V170.1H134.9V165.6H136.9V167.4H139.2V181.1H141.4V168.2H143.5V185.2H145.3V192.9H146.6V195.5H147.9V192H149.4V192.9H150.8V194.6H152.4V192.3H153.5V187.3H155V196.3H156.4V198.7H158.1V190.6H160.4V179.3H162.3V182.3H164.6V157.4H166.6V167.2" fill="none" stroke="#145a32" stroke-width="1.05"/><path d="M53.3 19V185.2" stroke="#e597a6" stroke-width="1.3"/></g><path d="M40.5 18.5V207.6" stroke="#2a2a2a" stroke-width="1.7" fill="none"/><path d="M37.9 19H40.5M37.9 56.6H40.5M37.9 94.3H40.5M37.9 131.9H40.5M37.9 169.6H40.5M37.9 207.2H40.5M44.5 207.2V211.2M86 207.2V211.2M127.5 207.2V211.2" stroke="#222" stroke-width="1" fill="none"/><path d="M40.5 207.5H166.7" stroke="#9c9c9c" stroke-width=".9" fill="none"/></svg>
<div class="cb i" style="left:5px"></div>
<div class="a" style="left:8.3px;top:243.6px;width:3.8px;height:1px;background:#94a3c4"></div>
<div class="cb i" style="left:49px"></div>
<div class="a" style="left:52.3px;top:243.6px;width:3.8px;height:1px;background:#94a3c4"></div>
<div class="cb i" style="left:93.2px"></div>
<div class="a" style="left:96.5px;top:243.6px;width:3.8px;height:1px;background:#94a3c4"></div>
<div class="cb c" style="left:131.5px"></div>
<svg style="left:131.5px;top:238.8px" width="10.4" height="10.4" viewBox="0 0 20 20"><path d="M4.6 10.4 L8.6 14.2 L15.6 5.8" fill="none" stroke="#fff" stroke-width="2.2"/></svg>
<div class="inp" style="top:259px"></div>
<div class="inp" style="top:291.9px"></div>
<span class="t s" style="left:60.00px;top:-22.48px;font-size:13.6px;color:#2b2f33;transform:scaleX(0.7469);font-weight:bold">CPU Used (%)</span>
<span class="t m" style="left:16.70px;top:14.42px;font-size:8.8px;color:#222222;transform:scaleX(0.7157);font-weight:bold">100.0</span>
<span class="t m" style="left:20.48px;top:52.42px;font-size:8.8px;color:#222222;transform:scaleX(0.7157);font-weight:bold">80.0</span>
<span class="t m" style="left:20.48px;top:89.42px;font-size:8.8px;color:#222222;transform:scaleX(0.7157);font-weight:bold">60.0</span>
<span class="t m" style="left:20.48px;top:127.42px;font-size:8.8px;color:#222222;transform:scaleX(0.7157);font-weight:bold">40.0</span>
<span class="t m" style="left:20.48px;top:165.42px;font-size:8.8px;color:#222222;transform:scaleX(0.7157);font-weight:bold">20.0</span>
<span class="t m" style="left:24.26px;top:202.42px;font-size:8.8px;color:#222222;transform:scaleX(0.7157);font-weight:bold">0.0</span>
<span class="t m" style="left:35.30px;top:213.42px;font-size:8.8px;color:#222222;transform:scaleX(0.6968);font-weight:bold">10:00</span>
<span class="t m" style="left:76.80px;top:213.42px;font-size:8.8px;color:#222222;transform:scaleX(0.6968);font-weight:bold">11:00</span>
<span class="t m" style="left:118.30px;top:213.42px;font-size:8.8px;color:#222222;transform:scaleX(0.6968);font-weight:bold">12:00</span>
<span class="t s" style="left:21.30px;top:239.32px;font-size:10px;color:#50565c;transform:scaleX(0.8275)">Email</span>
<span class="t s" style="left:65.00px;top:239.32px;font-size:10px;color:#50565c;transform:scaleX(0.7944)">Pager</span>
<span class="t s" style="left:109.00px;top:239.32px;font-size:10px;color:#50565c;transform:scaleX(0.7101)">SQS</span>
<span class="t s" style="left:147.00px;top:239.32px;font-size:10px;color:#2a8ea6;transform:scaleX(0.8360)">Winston</span>
<span class="t s" style="left:5.80px;top:266.32px;font-size:10px;color:#50565c;transform:scaleX(0.8762)">period_in_minutes</span>
<span class="t s" style="left:128.80px;top:266.62px;font-size:9.4px;color:#444a50;transform:scaleX(0.7665)">5</span>
<span class="t s" style="left:5.80px;top:299.32px;font-size:10px;color:#50565c;transform:scaleX(0.8584)">threshold_in_percentage</span>
<span class="t s" style="left:128.80px;top:299.62px;font-size:9.4px;color:#444a50;transform:scaleX(0.8240)">80</span>
</div>
<div class="col" style="left:413.4px;top:382.7px;transform:scale(0.992,0.992)">
<div class="box"></div>
<svg style="left:0;top:0" width="182.5" height="225.7" viewBox="0 0 182.5 225.7"><rect x="41" y="18" width="126.7" height="189.2" fill="#fff"/><path d="M44.5 18V207.2M51.4 18V207.2M58.3 18V207.2M65.3 18V207.2M72.2 18V207.2M79.1 18V207.2M86 18V207.2M92.9 18V207.2M99.8 18V207.2M106.8 18V207.2M113.7 18V207.2M120.6 18V207.2M127.5 18V207.2M134.4 18V207.2M141.3 18V207.2M148.3 18V207.2M155.2 18V207.2M162.1 18V207.2" stroke="#e7e7e7" stroke-width=".8" stroke-dasharray="2.2 1" fill="none"/><path d="M41.5 19H166.7M41.5 28.4H166.7M41.5 37.8H166.7M41.5 47.2H166.7M41.5 56.6H166.7M41.5 66H166.7M41.5 75.5H166.7M41.5 84.9H166.7M41.5 94.3H166.7M41.5 103.7H166.7M41.5 113.1H166.7M41.5 122.5H166.7M41.5 131.9H166.7M41.5 141.3H166.7M41.5 150.7H166.7M41.5 160.2H166.7M41.5 169.6H166.7M41.5 179H166.7M41.5 188.4H166.7M41.5 197.8H166.7" stroke="#e9e9e9" stroke-width=".8" stroke-dasharray="2.2 1" fill="none"/><path d="M41.5 56.6H166.7M41.5 94.3H166.7M41.5 131.9H166.7M41.5 169.6H166.7" stroke="#eedfdf" stroke-width=".8" stroke-dasharray="2.2 1" fill="none"/><g fill="none"><path d="M41 135.1H42.2V128.6H43.6V121.8H44.8V139.1H45.8V124.6H47.2V133.7H48V117.9H49.4V123.4H50.4V128.3H51.9V133.6H53.3V135.9H54.4V127.1H55.5V141.1H56.9V133.6H57.9V118.5H59.2V122.7H60.5V133.8H61.9V131.4H63.3V126.2H64.4V126.1H65.5V142.7H66.8V112.1H68V120.6H68.9V118.9H70.2V133.6H71.2V110.9H72.4V127.1H73.3V112.1H74.3V114.2H75.8V107.7H77.2V106.7H78.7V115.7H79.6V99.3H80.5V108.1H81.6V99.8H82.6V117.5H83.5V121.6H85V101.8H86.1V116.3H87.3V100.5H88.2V102H89.6V105.4H90.8V99.1H92V109.7H92.8V100.4H93.6V101.5H95V100.3H96.1V91.4H97V116.8H97.8V101.4H99.2V91.3H100.4V100.2H101.4V109.4H102.4V90.1H103.3V89.3H104.6V80.2H105.7V100.2H106.6V85.8H107.9V96.6H109V91.7H110V86.7H111.5V93.9H112.6V79.8H113.6V79.7H114.8V91.9H116.3V84.7H117.8V96.7H118.7V73.3H119.8V73.8H121V79H122.1V79H122.9V77.7H124.2V38.8H125.3V26.3H126.5V18.2H127.3V45.8H128.7V63.6H129.9V66.3H131.3V67.6H132.3V63.1H133.5V65H135V63.1H136V57.4H137.2V82.3H138.7V68.6H139.5V64.1H140.5V77H141.7V78.5H142.8V78.7H143.7V66.1H144.9V78.2H146.4V74.3H147.6V82.7H148.7V83H150.1V83.2H151.6V65.1H152.7V83.1H154V84.3H155.2V82H156.3V67.9H157.2V71.7H158.4V98.6H159.5V80.9H160.8V77.5H162.3V97.2H163.1V80.6H164.4V104.3H165.8V91.7H166.9V89.8" fill="none" stroke="#2f6db8" stroke-width="1"/><path d="M41 90.4H41.8V88.7H42.7V106.2H44.1V114.9H45.1V107.2H46.4V100.6H47.3V101.4H48.3V115.8H49.5V100.3H51V119.3H52.2V125.6H53.2V114.8H54.5V128H55.7V133.7H56.9V130.3H58.1V120.3H59.3V112H60.4V118.9H61.6V119.7H62.9V117.2H64.4V120.8H65.4V108.5H66.6V121.1H68V123.2H69.1V119.5H70V125.2H71.4V112H72.7V123.8H74V105.3H75.4V113.5H76.6V102.8H77.8V107.9H78.8V106.3H80V93.3H81.2V108.4H82.1V106.9H83.1V120H84.1V118H85.1V94.5H86.1V110.1H87.1V105H88.5V88H89.6V87.4H90.5V102H91.8V97.3H92.8V107.4H93.7V94.9H95.1V95.8H96.2V97.5H97.4V111.5H98.2V99.1H99.6V107.3H100.5V107H101.8V113.9H103.1V110.4H104.5V102.6H105.9V103.2H106.9V110.7H108.1V99.6H109.5V110.1H111V98.3H112.2V116.3H113V106.2H114.2V84.3H115.4V96.1H116.6V92.6H118V99.8H119.4V120.3H120.3V103.6H121.8V105.5H123.1V107.2H124.5V99H125.9V100.5H126.9V114.5H128.4V112H129.4V111.9H130.4V110.4H131.5V106.7H132.5V102.8H134V108.9H135.4V103.4H136.3V109.1H137.2V113H138.6V111.7H140V103.5H141V106.2H142.2V104.5H143.1V99.8H144.3V106.6H145.1V121H146.2V97.9H147.4V100.9H148.2V95H149.2V109.1H150.7V107.1H151.8V110.4H153.3V102.5H154.3V96.1H155.2V103.1H156.4V101.6H157.6V106.7H158.7V93.8H159.6V107.2H161V113.1H162V92.2H163.2V99.3H164.1V106.3H165.1V113.9H166.5V110.8" fill="none" stroke="#8a461c" stroke-width="1"/><path d="M41 148.8H42.3V158.2H43.4V152.7H44.3V154H45.4V164H46.6V154.1H47.8V156.3H49.1V152H50.3V147.6H51.5V154.3H52.7V157H53.8V150.2H54.9V149.4H55.8V154.6H56.7V161.2H57.5V155H58.8V154.3H59.8V154.5H60.9V157.7H62.2V149.8H63.1V151.6H64.3V141.9H65.7V156.9H66.5V148.4H67.9V148.3H69V146.2H70V146.3H70.9V156.3H71.9V146.6H72.8V155.9H73.7V150.9H74.6V152.2H75.7V153H77V146.7H78V148.9H79.2V153.9H80.3V147.9H81.4V143.5H82.6V152.7H83.9V153.5H84.7V149.9H85.7V149.9H86.7V145.6H87.8V144H89.1V153.7H90V150.8H90.8V148H92V149.7H93.2V152.3H94V145.7H95.1V146.8H96.3V152.2H97.3V152H98.3V151H99.6V149.9H100.5V154.6H101.5V152.2H102.6V153.8H103.4V148.6H104.8V152H105.7V143.8H106.5V145.7H107.5V153.1H108.4V146.3H109.6V153.6H111V145.4H112.3V139.5H113.2V146.2H114.4V149H115.5V145.5H116.7V147.4H117.6V153H118.5V149.2H119.7V147.9H120.7V149.8H122V143.3H123.3V142.6H124.2V149.3H125.5V153.1H126.7V144.9H127.6V149.8H128.6V148.5H129.8V148.6H130.8V145.6H131.7V143.8H133.1V147H134.1V146.1H135.5V145.4H136.3V143.3H137.4V157.1H138.4V141.7H139.6V145H140.5V144.6H141.7V146.6H142.6V151.6H143.5V145.1H144.6V143.8H145.7V149.9H147.1V149H148.2V145.8H149.2V135.8H150.5V145.4H151.4V144H152.6V150.4H154V150.4H154.8V150.6H156V140.7H157.1V148.3H158.5V144H159.5V142.9H160.3V138.3H161.2V150.4H162.1V134.7H163.4V142.4H164.5V141.9H165.4V141.8H166.6V145" fill="none" stroke="#9dbb2c" stroke-width="1"/></g><path d="M40.5 18.5V207.6" stroke="#2a2a2a" stroke-width="1.7" fill="none"/><path d="M37.9 56.6H40.5M37.9 94.3H40.5M37.9 131.9H40.5M37.9 169.6H40.5M37.9 207.2H40.5M44.5 207.2V211.2M86 207.2V211.2M127.5 207.2V211.2" stroke="#222" stroke-width="1" fill="none"/><path d="M40.5 207.5H166.7" stroke="#9c9c9c" stroke-width=".9" fill="none"/></svg>
<div class="cb u" style="left:5px"></div>
<div class="cb c" style="left:49px"></div>
<svg style="left:49px;top:238.8px" width="10.4" height="10.4" viewBox="0 0 20 20"><path d="M4.6 10.4 L8.6 14.2 L15.6 5.8" fill="none" stroke="#fff" stroke-width="2.2"/></svg>
<div class="cb i" style="left:93.2px"></div>
<div class="a" style="left:96.5px;top:243.6px;width:3.8px;height:1px;background:#94a3c4"></div>
<div class="cb u" style="left:131.5px"></div>
<div class="inp" style="top:259px"></div>
<div class="inp" style="top:291.9px"></div>
<span class="t s" style="left:36.90px;top:-22.08px;font-size:13.6px;color:#2b2f33;transform:scaleX(0.7611);font-weight:bold">Read Latency 99th (µs)</span>
<span class="t m" style="left:20.48px;top:52.06px;font-size:8.8px;color:#222222;transform:scaleX(0.7157);font-weight:bold">8.0k</span>
<span class="t m" style="left:20.48px;top:89.70px;font-size:8.8px;color:#222222;transform:scaleX(0.7157);font-weight:bold">6.0k</span>
<span class="t m" style="left:20.48px;top:127.34px;font-size:8.8px;color:#222222;transform:scaleX(0.7157);font-weight:bold">4.0k</span>
<span class="t m" style="left:20.48px;top:164.98px;font-size:8.8px;color:#222222;transform:scaleX(0.7157);font-weight:bold">2.0k</span>
<span class="t m" style="left:20.48px;top:202.62px;font-size:8.8px;color:#222222;transform:scaleX(0.7157);font-weight:bold">0.0k</span>
<span class="t m" style="left:35.30px;top:213.12px;font-size:8.8px;color:#222222;transform:scaleX(0.6968);font-weight:bold">10:00</span>
<span class="t m" style="left:76.80px;top:213.12px;font-size:8.8px;color:#222222;transform:scaleX(0.6968);font-weight:bold">11:00</span>
<span class="t m" style="left:118.30px;top:213.12px;font-size:8.8px;color:#222222;transform:scaleX(0.6968);font-weight:bold">12:00</span>
<span class="t s" style="left:21.30px;top:239.02px;font-size:10px;color:#50565c;transform:scaleX(0.8275)">Email</span>
<span class="t s" style="left:65.00px;top:239.02px;font-size:10px;color:#2a8ea6;transform:scaleX(0.7944)">Pager</span>
<span class="t s" style="left:109.00px;top:239.02px;font-size:10px;color:#50565c;transform:scaleX(0.7101)">SQS</span>
<span class="t s" style="left:147.00px;top:239.02px;font-size:10px;color:#50565c;transform:scaleX(0.8360)">Winston</span>
<span class="t s" style="left:5.80px;top:266.12px;font-size:10px;color:#50565c;transform:scaleX(0.8762)">period_in_minutes</span>
<span class="t s" style="left:128.80px;top:266.72px;font-size:9.4px;color:#444a50;transform:scaleX(0.7186)">10</span>
<span class="t s" style="left:5.80px;top:299.02px;font-size:10px;color:#50565c;transform:scaleX(0.8666)">threshold_in_microseconds</span>
<span class="t s" style="left:128.80px;top:299.62px;font-size:9.4px;color:#444a50;transform:scaleX(0.7836)">1000000</span>
</div>
<div class="col" style="left:608.3px;top:382.7px;transform:scale(0.992,0.992)">
<div class="box"></div>
<svg style="left:0;top:0" width="182.5" height="225.7" viewBox="0 0 182.5 225.7"><rect x="41" y="18" width="126.7" height="189.2" fill="#fff"/><path d="M44.5 18V207.2M51.4 18V207.2M58.3 18V207.2M65.3 18V207.2M72.2 18V207.2M79.1 18V207.2M86 18V207.2M92.9 18V207.2M99.8 18V207.2M106.8 18V207.2M113.7 18V207.2M120.6 18V207.2M127.5 18V207.2M134.4 18V207.2M141.3 18V207.2M148.3 18V207.2M155.2 18V207.2M162.1 18V207.2" stroke="#e7e7e7" stroke-width=".8" stroke-dasharray="2.2 1" fill="none"/><path d="M41.5 19H166.7M41.5 28.4H166.7M41.5 37.8H166.7M41.5 47.2H166.7M41.5 56.6H166.7M41.5 66H166.7M41.5 75.5H166.7M41.5 84.9H166.7M41.5 94.3H166.7M41.5 103.7H166.7M41.5 113.1H166.7M41.5 122.5H166.7M41.5 131.9H166.7M41.5 141.3H166.7M41.5 150.7H166.7M41.5 160.2H166.7M41.5 169.6H166.7M41.5 179H166.7M41.5 188.4H166.7M41.5 197.8H166.7" stroke="#e9e9e9" stroke-width=".8" stroke-dasharray="2.2 1" fill="none"/><path d="M41.5 47.2H166.7M41.5 79.2H166.7M41.5 111.2H166.7M41.5 143.2H166.7M41.5 175.2H166.7" stroke="#eedfdf" stroke-width=".8" stroke-dasharray="2.2 1" fill="none"/><g fill="none"><path d="M41 74.3L42.5 74.2L44 73L45.5 71.2L47 71.5L48.5 71.5L50 70.8L51.5 68.6L53 68.8L54.5 66.9L56 65.7L57.5 66.3L59 65.2L60.5 64.6L62 64L63.5 61.6L65 62.7L66.5 63.3L68 60.6L69.5 60.3L71 60.5L72.5 60L74 59.3L75.5 56.8L77 57.3L78.5 57.4L80 56L81.5 55L83 52.9L84.5 51.7L86 52.3L87.5 52.3L89 50L90.5 47.6L92 48.7L93.5 46.8L95 44.7L96.5 43.7L98 44L99.5 42L101 40.5L102.5 40.8L104 39.2L105.5 39L107 39.1L108.5 37.7L110 36.5L111.5 35.1L113 33L114.5 30.8L116 28.6L117.5 26.8L119 25.2L120.5 24.4L122 25L123.5 25.3L125 23.6L126.5 22.4L128 22.8L129.5 23.7L131 22.6L132.5 19.4L134 19.3L135.5 20.4L137 23.6L138.5 24.2L140 21.6L141.5 19.7L143 17.6L144.5 19.9L146 21.8L147.5 22.3L149 21.8L150.5 21.9L152 23.1L153.5 25.5L155 27.4L156.5 26.2L158 28.5L159.5 30L161 30.8L162.5 30.5L164 30.3L165.5 31.7" fill="none" stroke="#1f5f99" stroke-width="1.1"/><path d="M41 55.1L42.5 55.3L44 55.2L45.5 53.9L47 53.9L48.5 53.4L50 54.4L51.5 54.1L53 53.2L54.5 53.3L56 52.5L57.5 52.1L59 52.9L60.5 54.1L62 53.3L63.5 54.1L65 54.7L66.5 53.6L68 52.7L69.5 52.2L71 51.6L72.5 52.8L74 53.7L75.5 54.1L77 52.6L78.5 53.5L80 53.9L81.5 54.3L83 54.6L84.5 54.7L86 54.1L87.5 54.1L89 53.8L90.5 52.3L92 53L93.5 52L95 51.6L96.5 51.6L98 51.6L99.5 51.2L101 51.3L102.5 52.1L104 52.3L105.5 52.6L107 52.5L108.5 51.1L110 51.5L111.5 52.4L113 52.1L114.5 51.2L116 51.4L117.5 50.9L119 51.9L120.5 52.5L122 51.6L123.5 52.3L125 52.2L126.5 52L128 51.5L129.5 51.8L131 52L132.5 50.1L134 49.5L135.5 48.4L137 48.7L138.5 47.9L140 47.5L141.5 47.7L143 47.9L144.5 48L146 48.6L147.5 48.5L149 47.8L150.5 48.3L152 47.2L153.5 47.2L155 46.9L156.5 46.2L158 46.1L159.5 47L161 47.2L162.5 47.8L164 48.1L165.5 46.2" fill="none" stroke="#8a461c" stroke-width="1.1"/><path d="M41 93.1L42.5 92.9L44 92.5L45.5 93.2L47 93L48.5 92.4L50 92L51.5 93.1L53 92.9L54.5 92.8L56 93L57.5 92.3L59 92.6L60.5 93L62 92.3L63.5 92.4L65 93.1L66.5 93.5L68 93.4L69.5 94.2L71 93.6L72.5 93L74 93.3L75.5 92.6L77 92.1L78.5 92.5L80 92.5L81.5 93.3L83 93.9L84.5 92.5L86 92.8L87.5 93.1L89 92L90.5 91.5L92 92.3L93.5 92.4L95 92.5L96.5 92.4L98 92.8L99.5 92L101 91.9L102.5 91.6L104 91.8L105.5 91.9L107 92.1L108.5 90.6L110 89.9L111.5 89.7L113 90.4L114.5 90.6L116 90.8L117.5 90.5L119 90.7L120.5 90.3L122 90.2L123.5 90.1L125 89.1L126.5 88.9L128 88.6L129.5 88.6L131 88.2L132.5 87.4L134 87.8L135.5 88.4L137 87.9L138.5 87.8L140 86.9L141.5 87.5L143 86.5L144.5 87.3L146 86.8L147.5 86.6L149 86.7L150.5 85.6L152 85.2L153.5 85.9L155 85.7L156.5 85.3L158 86L159.5 86.3L161 85.5L162.5 84.7L164 84.6L165.5 84.6" fill="none" stroke="#a9c62c" stroke-width="1.1"/></g><path d="M40.5 18.5V207.6" stroke="#2a2a2a" stroke-width="1" fill="none"/><path d="M37.9 47.2H40.5M37.9 79.2H40.5M37.9 111.2H40.5M37.9 143.2H40.5M37.9 175.2H40.5M37.9 207.2H40.5M44.5 207.2V211.2M86 207.2V211.2M127.5 207.2V211.2" stroke="#222" stroke-width="1" fill="none"/><path d="M40.5 207.5H166.7" stroke="#9c9c9c" stroke-width=".9" fill="none"/></svg>
<div class="cb i" style="left:5px"></div>
<div class="a" style="left:8.3px;top:243.6px;width:3.8px;height:1px;background:#94a3c4"></div>
<div class="cb i" style="left:49px"></div>
<div class="a" style="left:52.3px;top:243.6px;width:3.8px;height:1px;background:#94a3c4"></div>
<div class="cb i" style="left:93.2px"></div>
<div class="a" style="left:96.5px;top:243.6px;width:3.8px;height:1px;background:#94a3c4"></div>
<div class="cb i" style="left:131.5px"></div>
<div class="a" style="left:134.8px;top:243.6px;width:3.8px;height:1px;background:#94a3c4"></div>
<div class="inp" style="top:259px"></div>
<span class="t s" style="left:60.79px;top:-22.08px;font-size:13.6px;color:#2b2f33;transform:scaleX(0.7410);font-weight:bold">Read Ops/sec</span>
<span class="t m" style="left:12.92px;top:42.59px;font-size:8.8px;color:#222222;transform:scaleX(0.7157);font-weight:bold">250.0k</span>
<span class="t m" style="left:12.92px;top:74.59px;font-size:8.8px;color:#222222;transform:scaleX(0.7157);font-weight:bold">200.0k</span>
<span class="t m" style="left:12.92px;top:106.60px;font-size:8.8px;color:#222222;transform:scaleX(0.7157);font-weight:bold">150.0k</span>
<span class="t m" style="left:12.92px;top:138.61px;font-size:8.8px;color:#222222;transform:scaleX(0.7157);font-weight:bold">100.0k</span>
<span class="t m" style="left:16.70px;top:170.61px;font-size:8.8px;color:#222222;transform:scaleX(0.7157);font-weight:bold">50.0k</span>
<span class="t m" style="left:20.48px;top:202.62px;font-size:8.8px;color:#222222;transform:scaleX(0.7157);font-weight:bold">0.0k</span>
<span class="t m" style="left:35.30px;top:213.12px;font-size:8.8px;color:#222222;transform:scaleX(0.6968);font-weight:bold">10:00</span>
<span class="t m" style="left:76.80px;top:213.12px;font-size:8.8px;color:#222222;transform:scaleX(0.6968);font-weight:bold">11:00</span>
<span class="t m" style="left:118.30px;top:213.12px;font-size:8.8px;color:#222222;transform:scaleX(0.6968);font-weight:bold">12:00</span>
<span class="t s" style="left:21.30px;top:239.02px;font-size:10px;color:#50565c;transform:scaleX(0.8275)">Email</span>
<span class="t s" style="left:65.00px;top:239.02px;font-size:10px;color:#50565c;transform:scaleX(0.7944)">Pager</span>
<span class="t s" style="left:109.00px;top:239.02px;font-size:10px;color:#50565c;transform:scaleX(0.7101)">SQS</span>
<span class="t s" style="left:147.00px;top:239.02px;font-size:10px;color:#50565c;transform:scaleX(0.8360)">Winston</span>
<span class="t s" style="left:5.80px;top:266.12px;font-size:10px;color:#50565c;transform:scaleX(0.8848)">threshold</span>
<span class="t s" style="left:128.80px;top:266.72px;font-size:9.4px;color:#444a50;transform:scaleX(0.8246)">3000</span>
</div>
<div class="col" style="left:803.4px;top:382.3px">
<div class="box"></div>
<svg style="left:0;top:0" width="182.5" height="225.7" viewBox="0 0 182.5 225.7"><rect x="41" y="18" width="126.7" height="189.2" fill="#fff"/><path d="M44.5 18V207.2M51.4 18V207.2M58.3 18V207.2M65.3 18V207.2M72.2 18V207.2M79.1 18V207.2M86 18V207.2M92.9 18V207.2M99.8 18V207.2M106.8 18V207.2M113.7 18V207.2M120.6 18V207.2M127.5 18V207.2M134.4 18V207.2M141.3 18V207.2M148.3 18V207.2M155.2 18V207.2M162.1 18V207.2" stroke="#e7e7e7" stroke-width=".8" stroke-dasharray="2.2 1" fill="none"/><path d="M41.5 19H166.7M41.5 28.4H166.7M41.5 37.8H166.7M41.5 47.2H166.7M41.5 56.6H166.7M41.5 66H166.7M41.5 75.5H166.7M41.5 84.9H166.7M41.5 94.3H166.7M41.5 103.7H166.7M41.5 113.1H166.7M41.5 122.5H166.7M41.5 131.9H166.7M41.5 141.3H166.7M41.5 150.7H166.7M41.5 160.2H166.7M41.5 169.6H166.7M41.5 179H166.7M41.5 188.4H166.7M41.5 197.8H166.7" stroke="#e9e9e9" stroke-width=".8" stroke-dasharray="2.2 1" fill="none"/><path d="M41.5 19H166.7M41.5 56.6H166.7M41.5 94.3H166.7M41.5 131.9H166.7M41.5 169.6H166.7" stroke="#eedfdf" stroke-width=".8" stroke-dasharray="2.2 1" fill="none"/><g fill="none"><path d="M108 206.9H118" stroke="#7fb0d8" stroke-width="1.2"/></g><path d="M40.5 18.5V207.6" stroke="#2a2a2a" stroke-width="1" fill="none"/><path d="M37.9 19H40.5M37.9 56.6H40.5M37.9 94.3H40.5M37.9 131.9H40.5M37.9 169.6H40.5M37.9 207.2H40.5M44.5 207.2V211.2M86 207.2V211.2M127.5 207.2V211.2" stroke="#222" stroke-width="1" fill="none"/><path d="M40.5 207.5H166.7" stroke="#9c9c9c" stroke-width=".9" fill="none"/></svg>
<div class="cb i" style="left:5px"></div>
<div class="a" style="left:8.3px;top:243.6px;width:3.8px;height:1px;background:#94a3c4"></div>
<div class="cb i" style="left:49px"></div>
<div class="a" style="left:52.3px;top:243.6px;width:3.8px;height:1px;background:#94a3c4"></div>
<div class="cb i" style="left:93.2px"></div>
<div class="a" style="left:96.5px;top:243.6px;width:3.8px;height:1px;background:#94a3c4"></div>
<div class="cb c" style="left:131.5px"></div>
<svg style="left:131.5px;top:238.8px" width="10.4" height="10.4" viewBox="0 0 20 20"><path d="M4.6 10.4 L8.6 14.2 L15.6 5.8" fill="none" stroke="#fff" stroke-width="2.2"/></svg>
<span class="t s" style="left:46.60px;top:-22.48px;font-size:13.6px;color:#2b2f33;transform:scaleX(0.7569);font-weight:bold">Backup v2 Failures</span>
<span class="t m" style="left:24.26px;top:14.42px;font-size:8.8px;color:#222222;transform:scaleX(0.7157);font-weight:bold">1.0</span>
<span class="t m" style="left:24.26px;top:52.42px;font-size:8.8px;color:#222222;transform:scaleX(0.7157);font-weight:bold">0.8</span>
<span class="t m" style="left:24.26px;top:89.42px;font-size:8.8px;color:#222222;transform:scaleX(0.7157);font-weight:bold">0.6</span>
<span class="t m" style="left:24.26px;top:127.42px;font-size:8.8px;color:#222222;transform:scaleX(0.7157);font-weight:bold">0.4</span>
<span class="t m" style="left:24.26px;top:165.42px;font-size:8.8px;color:#222222;transform:scaleX(0.7157);font-weight:bold">0.2</span>
<span class="t m" style="left:24.26px;top:202.42px;font-size:8.8px;color:#222222;transform:scaleX(0.7157);font-weight:bold">0.0</span>
<span class="t m" style="left:35.30px;top:213.42px;font-size:8.8px;color:#222222;transform:scaleX(0.6968);font-weight:bold">10:00</span>
<span class="t m" style="left:76.80px;top:213.42px;font-size:8.8px;color:#222222;transform:scaleX(0.6968);font-weight:bold">11:00</span>
<span class="t m" style="left:118.30px;top:213.42px;font-size:8.8px;color:#222222;transform:scaleX(0.6968);font-weight:bold">12:00</span>
<span class="t s" style="left:21.30px;top:239.32px;font-size:10px;color:#50565c;transform:scaleX(0.8275)">Email</span>
<span class="t s" style="left:65.00px;top:239.32px;font-size:10px;color:#50565c;transform:scaleX(0.7944)">Pager</span>
<span class="t s" style="left:109.00px;top:239.32px;font-size:10px;color:#50565c;transform:scaleX(0.7101)">SQS</span>
<span class="t s" style="left:147.00px;top:239.32px;font-size:10px;color:#2a8ea6;transform:scaleX(0.8360)">Winston</span>
</div>
<div class="col" style="left:1000px;top:382.3px">
<div class="box"></div>
<svg style="left:0;top:0" width="182.5" height="225.7" viewBox="0 0 182.5 225.7"><rect x="41" y="18" width="126.7" height="189.2" fill="#fff"/><path d="M44.5 18V207.2M51.4 18V207.2M58.3 18V207.2M65.3 18V207.2M72.2 18V207.2M79.1 18V207.2M86 18V207.2M92.9 18V207.2M99.8 18V207.2M106.8 18V207.2M113.7 18V207.2M120.6 18V207.2M127.5 18V207.2M134.4 18V207.2M141.3 18V207.2M148.3 18V207.2M155.2 18V207.2M162.1 18V207.2" stroke="#e7e7e7" stroke-width=".8" stroke-dasharray="2.2 1" fill="none"/><path d="M41.5 19H166.7M41.5 28.4H166.7M41.5 37.8H166.7M41.5 47.2H166.7M41.5 56.6H166.7M41.5 66H166.7M41.5 75.5H166.7M41.5 84.9H166.7M41.5 94.3H166.7M41.5 103.7H166.7M41.5 113.1H166.7M41.5 122.5H166.7M41.5 131.9H166.7M41.5 141.3H166.7M41.5 150.7H166.7M41.5 160.2H166.7M41.5 169.6H166.7M41.5 179H166.7M41.5 188.4H166.7M41.5 197.8H166.7" stroke="#e9e9e9" stroke-width=".8" stroke-dasharray="2.2 1" fill="none"/><path d="M41.5 21.2H166.7M41.5 83.2H166.7M41.5 145.2H166.7" stroke="#eedfdf" stroke-width=".8" stroke-dasharray="2.2 1" fill="none"/><g fill="none"><path d="M41 72H96V72H97V73.3H108V72.9H110V58.4H111.5V47.2H113V41H115V34.8H116.5V32.3H118.3V39.8H120V24.3H121.8V29.9H123.5V33.6H125.3V19.3H127.1V31.1H128.8V27.4H130.6V34.8H132.3V29.9H134.1V39.8H135.9V32.3H137.6V36.1H139.4V42.3H141.1V44.7H142.9V39.8H144.7V33.6H146.4V42.3H148.2V44.7H149.9V44.7H151.7V42.3H153.5V38.5H155.2V36.1H157V37.3H158.7V31.1H160.5V19.9H162.3V28.6H164V33.6H165.8V38.5" fill="none" stroke="#2b66a5" stroke-width=".95"/></g><path d="M40.5 18.5V207.6" stroke="#2a2a2a" stroke-width="1.7" fill="none"/><path d="M37.9 21.2H40.5M37.9 83.2H40.5M37.9 145.2H40.5M37.9 207.2H40.5M44.5 207.2V211.2M86 207.2V211.2M127.5 207.2V211.2" stroke="#222" stroke-width="1" fill="none"/><path d="M40.5 207.5H166.7" stroke="#9c9c9c" stroke-width=".9" fill="none"/></svg>
<div class="cb u" style="left:5px"></div>
<div class="cb c" style="left:49px"></div>
<svg style="left:49px;top:238.8px" width="10.4" height="10.4" viewBox="0 0 20 20"><path d="M4.6 10.4 L8.6 14.2 L15.6 5.8" fill="none" stroke="#fff" stroke-width="2.2"/></svg>
<div class="cb i" style="left:93.2px"></div>
<div class="a" style="left:96.5px;top:243.6px;width:3.8px;height:1px;background:#94a3c4"></div>
<div class="cb i" style="left:131.5px"></div>
<div class="a" style="left:134.8px;top:243.6px;width:3.8px;height:1px;background:#94a3c4"></div>
<div class="inp" style="top:259px"></div>
<div class="inp" style="top:291.9px"></div>
<span class="t s" style="left:36.30px;top:-22.48px;font-size:13.6px;color:#2b2f33;transform:scaleX(0.7726);font-weight:bold">Write Latency 99th (µs)</span>
<span class="t m" style="left:16.70px;top:16.42px;font-size:8.8px;color:#222222;transform:scaleX(0.7157);font-weight:bold">300.0</span>
<span class="t m" style="left:16.70px;top:78.42px;font-size:8.8px;color:#222222;transform:scaleX(0.7157);font-weight:bold">200.0</span>
<span class="t m" style="left:16.70px;top:140.42px;font-size:8.8px;color:#222222;transform:scaleX(0.7157);font-weight:bold">100.0</span>
<span class="t m" style="left:24.26px;top:202.42px;font-size:8.8px;color:#222222;transform:scaleX(0.7157);font-weight:bold">0.0</span>
<span class="t m" style="left:35.30px;top:213.42px;font-size:8.8px;color:#222222;transform:scaleX(0.6968);font-weight:bold">10:00</span>
<span class="t m" style="left:76.80px;top:213.42px;font-size:8.8px;color:#222222;transform:scaleX(0.6968);font-weight:bold">11:00</span>
<span class="t m" style="left:118.30px;top:213.42px;font-size:8.8px;color:#222222;transform:scaleX(0.6968);font-weight:bold">12:00</span>
<span class="t s" style="left:21.30px;top:239.32px;font-size:10px;color:#50565c;transform:scaleX(0.8275)">Email</span>
<span class="t s" style="left:65.00px;top:239.32px;font-size:10px;color:#2a8ea6;transform:scaleX(0.7944)">Pager</span>
<span class="t s" style="left:109.00px;top:239.32px;font-size:10px;color:#50565c;transform:scaleX(0.7101)">SQS</span>
<span class="t s" style="left:147.00px;top:239.32px;font-size:10px;color:#50565c;transform:scaleX(0.8360)">Winston</span>
<span class="t s" style="left:5.80px;top:266.32px;font-size:10px;color:#50565c;transform:scaleX(0.8762)">period_in_minutes</span>
<span class="t s" style="left:128.80px;top:266.62px;font-size:9.4px;color:#444a50;transform:scaleX(0.7186)">10</span>
<span class="t s" style="left:5.80px;top:299.32px;font-size:10px;color:#50565c;transform:scaleX(0.8666)">threshold_in_microseconds</span>
<span class="t s" style="left:128.80px;top:299.62px;font-size:9.4px;color:#444a50;transform:scaleX(0.7836)">1000000</span>
</div>
<div class="col" style="left:1197px;top:382.3px">
<div class="box"></div>
<svg style="left:0;top:0" width="182.5" height="225.7" viewBox="0 0 182.5 225.7"><rect x="41" y="18" width="126.7" height="189.2" fill="#fff"/><path d="M44.5 18V207.2M51.4 18V207.2M58.3 18V207.2M65.3 18V207.2M72.2 18V207.2M79.1 18V207.2M86 18V207.2M92.9 18V207.2M99.8 18V207.2M106.8 18V207.2M113.7 18V207.2M120.6 18V207.2M127.5 18V207.2M134.4 18V207.2M141.3 18V207.2M148.3 18V207.2M155.2 18V207.2M162.1 18V207.2" stroke="#e7e7e7" stroke-width=".8" stroke-dasharray="2.2 1" fill="none"/><path d="M41.5 19H166.7M41.5 28.4H166.7M41.5 37.8H166.7M41.5 47.2H166.7M41.5 56.6H166.7M41.5 66H166.7M41.5 75.5H166.7M41.5 84.9H166.7M41.5 94.3H166.7M41.5 103.7H166.7M41.5 113.1H166.7M41.5 122.5H166.7M41.5 131.9H166.7M41.5 141.3H166.7M41.5 150.7H166.7M41.5 160.2H166.7M41.5 169.6H166.7M41.5 179H166.7M41.5 188.4H166.7M41.5 197.8H166.7" stroke="#e9e9e9" stroke-width=".8" stroke-dasharray="2.2 1" fill="none"/><path d="M41.5 19.9H166.7M41.5 56.6H166.7M41.5 94.3H166.7M41.5 131.9H166.7M41.5 169.6H166.7" stroke="#eedfdf" stroke-width=".8" stroke-dasharray="2.2 1" fill="none"/><g fill="none"><path d="M41 38.8L42.3 39L43.6 38.7L44.9 38.9L46.2 39L47.5 38.6L48.8 38.2L50.1 38.3L51.4 38.4L52.7 38.3L54 37.4L55.3 36.8L56.6 36.6L57.9 37L59.2 37.1L60.5 37.2L61.8 35.9L63.1 35.3L64.4 35.3L65.7 35.1L67 34.8L68.3 35.2L69.6 35L70.9 35.2L72.2 35.4L73.5 34.9L74.8 34.8L76.1 34.6L77.4 34.4L78.7 34.5L80 33.6L81.3 33.5L82.6 33L83.9 32.6L85.2 32.5L86.5 32.8L87.8 32.2L89.1 32.3L90.4 32.4L91.7 32.5L93 32.5L94.3 31.6L95.6 31.8L96.9 31.8L98.2 31.7L99.5 31.7L100.8 31.4L102.1 30.5L103.4 30L104.7 29.9L106 29.3L107.3 29.3L108.6 29.5L109.9 29.2L111.2 29.6L112.5 29.3L113.8 28.7L115.1 28.4L116.4 28.3L117.7 28.5L119 28L120.3 27.3L121.6 27.5L122.9 26.9L124.2 26.4L125.5 26.9L126.8 26.4L128.1 26.6L129.4 26.8L130.7 26.6L132 26.2L133.3 26.2L134.6 25.9L135.9 25.5L137.2 25.7L138.5 25.6L139.8 25.7L141.1 25.1L142.4 24.7L143.7 24.4L145 24.3L146.3 23.9L147.6 23.6L148.9 23.1L150.2 21.9L151.5 21.8L152.8 21.6L154.1 22L155.4 22.3L156.7 21.8L158 21.4L159.3 20.8L160.6 20.5L161.9 20.3L163.2 20.3L164.5 19.7L165.8 18.4" fill="none" stroke="#1f5f99" stroke-width="1"/></g><path d="M40.5 18.5V207.6" stroke="#2a2a2a" stroke-width="1" fill="none"/><path d="M37.9 19.9H40.5M37.9 56.6H40.5M37.9 94.3H40.5M37.9 131.9H40.5M37.9 169.6H40.5M37.9 207.2H40.5M44.5 207.2V211.2M86 207.2V211.2M127.5 207.2V211.2" stroke="#222" stroke-width="1" fill="none"/><path d="M40.5 207.5H166.7" stroke="#9c9c9c" stroke-width=".9" fill="none"/></svg>
<div class="cb i" style="left:5px"></div>
<div class="a" style="left:8.3px;top:243.6px;width:3.8px;height:1px;background:#94a3c4"></div>
<div class="cb i" style="left:49px"></div>
<div class="a" style="left:52.3px;top:243.6px;width:3.8px;height:1px;background:#94a3c4"></div>
<div class="cb i" style="left:93.2px"></div>
<div class="a" style="left:96.5px;top:243.6px;width:3.8px;height:1px;background:#94a3c4"></div>
<div class="cb i" style="left:131.5px"></div>
<div class="a" style="left:134.8px;top:243.6px;width:3.8px;height:1px;background:#94a3c4"></div>
<div class="inp" style="top:259px"></div>
<span class="t s" style="left:59.30px;top:-22.48px;font-size:13.6px;color:#2b2f33;transform:scaleX(0.7509);font-weight:bold">Write Ops/sec</span>
<span class="t m" style="left:20.48px;top:15.42px;font-size:8.8px;color:#222222;transform:scaleX(0.7157);font-weight:bold">1.5M</span>
<span class="t m" style="left:20.48px;top:52.42px;font-size:8.8px;color:#222222;transform:scaleX(0.7157);font-weight:bold">1.2M</span>
<span class="t m" style="left:20.48px;top:89.42px;font-size:8.8px;color:#222222;transform:scaleX(0.7157);font-weight:bold">0.9M</span>
<span class="t m" style="left:20.48px;top:127.42px;font-size:8.8px;color:#222222;transform:scaleX(0.7157);font-weight:bold">0.6M</span>
<span class="t m" style="left:20.48px;top:165.42px;font-size:8.8px;color:#222222;transform:scaleX(0.7157);font-weight:bold">0.3M</span>
<span class="t m" style="left:20.48px;top:202.42px;font-size:8.8px;color:#222222;transform:scaleX(0.7157);font-weight:bold">0.0M</span>
<span class="t m" style="left:35.30px;top:213.42px;font-size:8.8px;color:#222222;transform:scaleX(0.6968);font-weight:bold">10:00</span>
<span class="t m" style="left:76.80px;top:213.42px;font-size:8.8px;color:#222222;transform:scaleX(0.6968);font-weight:bold">11:00</span>
<span class="t m" style="left:118.30px;top:213.42px;font-size:8.8px;color:#222222;transform:scaleX(0.6968);font-weight:bold">12:00</span>
<span class="t s" style="left:21.30px;top:239.32px;font-size:10px;color:#50565c;transform:scaleX(0.8275)">Email</span>
<span class="t s" style="left:65.00px;top:239.32px;font-size:10px;color:#50565c;transform:scaleX(0.7944)">Pager</span>
<span class="t s" style="left:109.00px;top:239.32px;font-size:10px;color:#50565c;transform:scaleX(0.7101)">SQS</span>
<span class="t s" style="left:147.00px;top:239.32px;font-size:10px;color:#50565c;transform:scaleX(0.8360)">Winston</span>
<span class="t s" style="left:5.80px;top:266.32px;font-size:10px;color:#50565c;transform:scaleX(0.8848)">threshold</span>
<span class="t s" style="left:128.80px;top:266.62px;font-size:9.4px;color:#444a50;transform:scaleX(0.7958)">1000</span>
</div>
<svg style="left:698.6px;top:702.8px" width="7" height="12.6" viewBox="0 0 11 20"><path d="M0.6 0.6 V15.6 L4 12.4 L6.6 18.8 L9 17.8 L6.4 11.6 H10.8 Z" fill="#111" stroke="#fff" stroke-width=".8"/></svg>
</div></div></body></html>
